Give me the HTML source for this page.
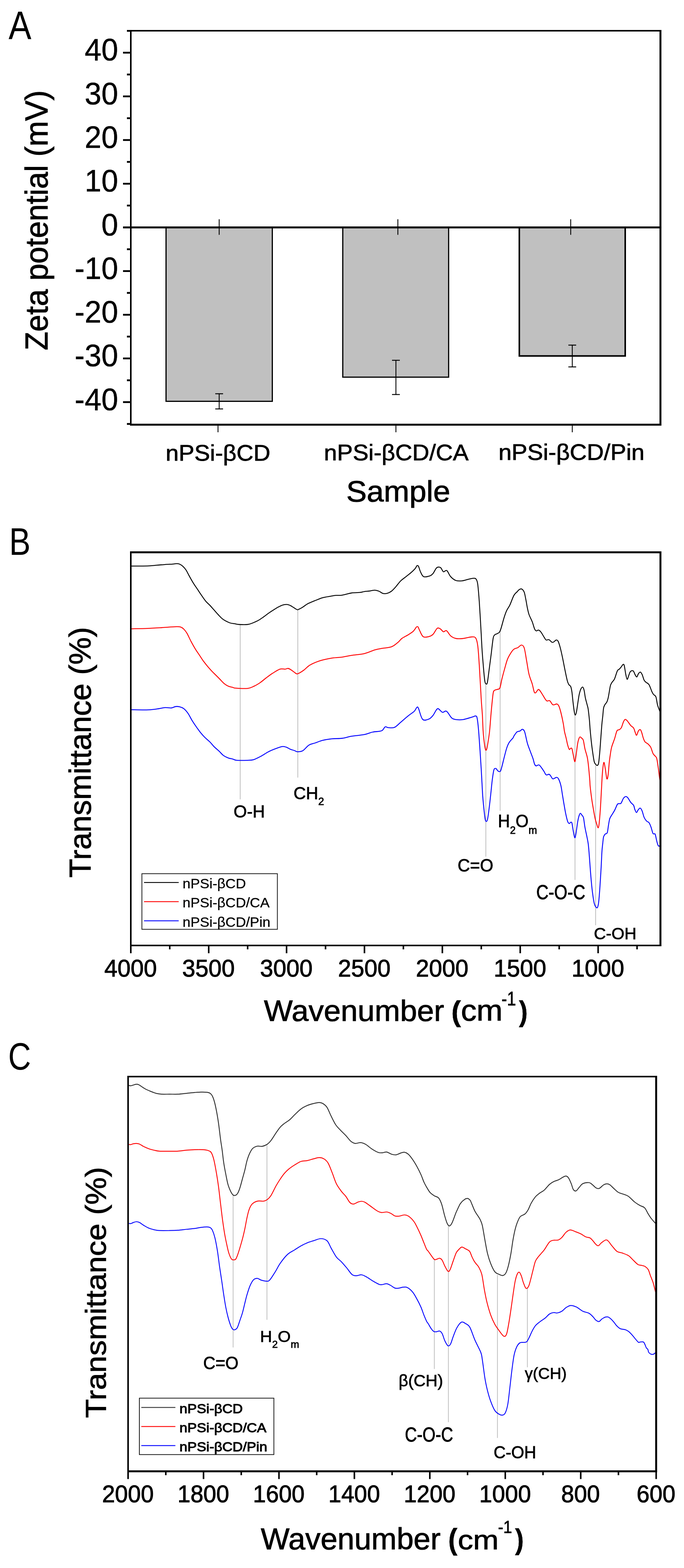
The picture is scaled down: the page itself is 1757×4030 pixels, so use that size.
<!DOCTYPE html>
<html><head><meta charset="utf-8"><title>Figure</title>
<style>html,body{margin:0;padding:0;background:#fff;}svg{display:block;}</style>
</head><body>
<svg width="1757" height="4030" viewBox="0 0 1757 4030">
<rect width="1757" height="4030" fill="#fff"/>
<rect x="426.5" y="584.45" width="273.0" height="447.0" fill="#C0C0C0" stroke="#000" stroke-width="3"/>
<rect x="880.5" y="584.45" width="271.9" height="384.9" fill="#C0C0C0" stroke="#000" stroke-width="3"/>
<rect x="1334" y="584.45" width="272.0" height="330.4" fill="#C0C0C0" stroke="#000" stroke-width="4"/>
<line x1="563" y1="1012" x2="563" y2="1051" stroke="#000" stroke-width="2.2" />
<line x1="553" y1="1012" x2="573" y2="1012" stroke="#000" stroke-width="2.4" />
<line x1="553" y1="1051" x2="573" y2="1051" stroke="#000" stroke-width="2.4" />
<line x1="1017" y1="926" x2="1017" y2="1014" stroke="#000" stroke-width="2.2" />
<line x1="1007" y1="926" x2="1027" y2="926" stroke="#000" stroke-width="2.4" />
<line x1="1007" y1="1014" x2="1027" y2="1014" stroke="#000" stroke-width="2.4" />
<line x1="1470" y1="887" x2="1470" y2="943" stroke="#000" stroke-width="2.2" />
<line x1="1460" y1="887" x2="1480" y2="887" stroke="#000" stroke-width="2.4" />
<line x1="1460" y1="943" x2="1480" y2="943" stroke="#000" stroke-width="2.4" />
<line x1="563" y1="563.5" x2="563" y2="603.5" stroke="#000" stroke-width="2.2" />
<line x1="1022" y1="563.5" x2="1022" y2="603.5" stroke="#000" stroke-width="2.2" />
<line x1="1466" y1="563.5" x2="1466" y2="603.5" stroke="#000" stroke-width="2.2" />
<line x1="316" y1="584.45" x2="1696" y2="584.45" stroke="#000" stroke-width="5" />
<line x1="334" y1="79" x2="1699" y2="79" stroke="#000" stroke-width="4" />
<line x1="336" y1="77" x2="336" y2="1094" stroke="#000" stroke-width="4" />
<line x1="1696.5" y1="77" x2="1696.5" y2="1094" stroke="#000" stroke-width="5" />
<line x1="334" y1="1091.5" x2="1699" y2="1091.5" stroke="#000" stroke-width="5" />
<line x1="316" y1="1033.5" x2="336" y2="1033.5" stroke="#000" stroke-width="4.6" />
<line x1="316" y1="921.2" x2="336" y2="921.2" stroke="#000" stroke-width="4.6" />
<line x1="316" y1="809.0" x2="336" y2="809.0" stroke="#000" stroke-width="4.6" />
<line x1="316" y1="696.7" x2="336" y2="696.7" stroke="#000" stroke-width="4.6" />
<line x1="316" y1="584.5" x2="336" y2="584.5" stroke="#000" stroke-width="4.6" />
<line x1="316" y1="472.2" x2="336" y2="472.2" stroke="#000" stroke-width="4.6" />
<line x1="316" y1="359.9" x2="336" y2="359.9" stroke="#000" stroke-width="4.6" />
<line x1="316" y1="247.7" x2="336" y2="247.7" stroke="#000" stroke-width="4.6" />
<line x1="316" y1="135.4" x2="336" y2="135.4" stroke="#000" stroke-width="4.6" />
<line x1="326" y1="1089.6" x2="336" y2="1089.6" stroke="#000" stroke-width="4.6" />
<line x1="326" y1="977.4" x2="336" y2="977.4" stroke="#000" stroke-width="4.6" />
<line x1="326" y1="865.1" x2="336" y2="865.1" stroke="#000" stroke-width="4.6" />
<line x1="326" y1="752.8" x2="336" y2="752.8" stroke="#000" stroke-width="4.6" />
<line x1="326" y1="640.6" x2="336" y2="640.6" stroke="#000" stroke-width="4.6" />
<line x1="326" y1="528.3" x2="336" y2="528.3" stroke="#000" stroke-width="4.6" />
<line x1="326" y1="416.1" x2="336" y2="416.1" stroke="#000" stroke-width="4.6" />
<line x1="326" y1="303.8" x2="336" y2="303.8" stroke="#000" stroke-width="4.6" />
<line x1="326" y1="191.5" x2="336" y2="191.5" stroke="#000" stroke-width="4.6" />
<line x1="326" y1="79.3" x2="336" y2="79.3" stroke="#000" stroke-width="4.6" />
<line x1="560" y1="1091" x2="560" y2="1111" stroke="#000" stroke-width="2.2" />
<line x1="1017" y1="1091" x2="1017" y2="1111" stroke="#000" stroke-width="2.2" />
<line x1="1470" y1="1091" x2="1470" y2="1111" stroke="#000" stroke-width="2.2" />
<clipPath id="cb"><rect x="336" y="1419.4" width="1360.5" height="1010.5999999999999"/></clipPath>
<line x1="617" y1="1606" x2="617" y2="2054.6" stroke="#C0C0C0" stroke-width="2" />
<line x1="765" y1="1566" x2="765" y2="1998.5" stroke="#C0C0C0" stroke-width="2" />
<line x1="1248" y1="1757.7" x2="1248" y2="2201.8" stroke="#C0C0C0" stroke-width="2" />
<line x1="1284.7" y1="1619.4" x2="1284.7" y2="2083.8" stroke="#C0C0C0" stroke-width="2" />
<line x1="1477" y1="1837.8" x2="1477" y2="2261.5" stroke="#C0C0C0" stroke-width="2" />
<line x1="1530" y1="1967" x2="1530" y2="2378" stroke="#C0C0C0" stroke-width="2" />
<path d="M336.0 1454.8 C343.1 1454.8 367.6 1454.9 378.7 1454.6 C389.8 1454.2 395.2 1453.3 402.8 1452.7 C410.4 1452.1 417.5 1451.3 424.2 1450.8 C430.9 1450.3 438.0 1450.1 442.9 1449.8 C447.8 1449.5 450.4 1448.7 453.5 1448.7 C456.6 1448.7 458.9 1448.9 461.6 1450.0 C464.3 1451.1 466.9 1453.0 469.6 1455.4 C472.3 1457.9 474.9 1460.7 477.6 1464.7 C480.3 1468.7 482.5 1473.8 485.6 1479.4 C488.7 1485.0 492.7 1492.3 496.3 1498.1 C499.9 1503.9 503.4 1508.8 507.0 1514.1 C510.6 1519.4 514.2 1525.1 517.7 1530.2 C521.2 1535.3 524.8 1540.7 528.3 1544.9 C531.8 1549.1 535.4 1551.8 539.0 1555.6 C542.6 1559.4 546.1 1563.6 549.7 1567.6 C553.3 1571.6 556.8 1575.8 560.4 1579.6 C564.0 1583.4 567.5 1587.4 571.1 1590.3 C574.7 1593.2 578.2 1595.1 581.8 1597.0 C585.4 1598.9 589.0 1600.5 592.5 1601.5 C596.0 1602.5 599.6 1602.5 603.1 1603.1 C606.6 1603.7 608.3 1604.7 613.8 1605.0 C619.3 1605.3 630.1 1605.7 636.0 1605.0 C641.9 1604.3 644.9 1602.7 649.4 1601.0 C653.9 1599.3 658.2 1597.5 662.7 1595.1 C667.2 1592.6 671.7 1589.4 676.1 1586.3 C680.5 1583.2 685.0 1579.5 689.4 1576.4 C693.8 1573.3 698.3 1570.4 702.8 1567.6 C707.2 1564.8 712.1 1561.7 716.1 1559.6 C720.1 1557.5 723.2 1555.8 726.8 1554.8 C730.4 1553.8 734.4 1553.5 737.5 1553.7 C740.6 1553.9 742.8 1554.9 745.5 1556.1 C748.2 1557.3 750.6 1559.1 753.5 1560.9 C756.4 1562.7 760.7 1565.9 762.9 1566.8 C765.1 1567.7 764.4 1567.3 766.9 1566.2 C769.4 1565.1 773.6 1562.8 777.6 1560.4 C781.6 1558.0 785.6 1554.4 790.9 1551.6 C796.2 1548.8 803.4 1546.0 809.6 1543.5 C815.8 1541.0 821.6 1538.2 828.3 1536.3 C835.0 1534.4 843.9 1533.3 849.7 1532.3 C855.5 1531.3 858.2 1530.7 863.1 1530.2 C868.0 1529.8 872.4 1530.6 879.1 1529.6 C885.8 1528.6 895.5 1525.2 903.1 1524.0 C910.7 1522.8 919.0 1523.3 924.5 1522.7 C930.0 1522.1 931.9 1520.9 936.0 1520.3 C940.1 1519.7 944.9 1519.6 949.4 1519.0 C953.9 1518.4 958.7 1516.7 962.7 1516.8 C966.7 1516.9 969.8 1518.1 973.4 1519.5 C977.0 1520.9 980.5 1524.5 984.1 1525.4 C987.7 1526.3 991.2 1525.8 994.8 1524.8 C998.4 1523.8 1002.0 1522.2 1005.5 1519.5 C1009.0 1516.8 1012.1 1513.2 1016.1 1508.8 C1020.1 1504.3 1025.0 1497.2 1029.5 1492.8 C1034.0 1488.3 1038.5 1485.7 1042.9 1482.1 C1047.4 1478.5 1052.2 1475.0 1056.2 1471.4 C1060.2 1467.8 1064.5 1463.6 1066.9 1460.7 C1069.4 1457.8 1069.6 1454.9 1070.9 1454.0 C1072.2 1453.1 1073.3 1452.7 1074.9 1455.4 C1076.5 1458.1 1078.1 1465.6 1080.3 1470.1 C1082.5 1474.5 1084.3 1480.4 1088.3 1482.1 C1092.3 1483.8 1100.3 1481.5 1104.3 1480.2 C1108.3 1478.9 1109.6 1477.3 1112.3 1474.1 C1115.0 1470.8 1118.1 1463.5 1120.3 1460.7 C1122.5 1457.9 1123.7 1457.7 1125.7 1457.5 C1127.7 1457.3 1130.1 1457.4 1132.3 1459.4 C1134.5 1461.4 1136.8 1468.4 1139.0 1469.5 C1141.2 1470.6 1143.9 1466.2 1145.7 1466.1 C1147.5 1466.0 1147.7 1466.0 1149.7 1468.7 C1151.7 1471.4 1154.1 1478.2 1157.7 1482.1 C1161.3 1486.0 1166.2 1490.2 1171.1 1492.0 C1176.0 1493.8 1181.8 1493.3 1187.1 1492.8 C1192.4 1492.3 1198.2 1489.9 1203.1 1488.8 C1208.0 1487.7 1213.2 1486.1 1216.5 1486.1 C1219.8 1486.1 1221.4 1486.1 1223.2 1488.8 C1225.0 1491.5 1225.9 1492.3 1227.2 1502.1 C1228.5 1511.9 1229.7 1526.5 1231.2 1547.5 C1232.7 1568.5 1234.9 1608.3 1236.0 1628.0 C1237.1 1647.7 1237.2 1652.4 1238.0 1665.5 C1238.8 1678.6 1239.9 1692.5 1241.1 1706.5 C1242.3 1720.5 1243.9 1741.0 1245.2 1749.5 C1246.5 1758.0 1247.6 1757.0 1248.7 1757.7 C1249.8 1758.4 1250.7 1759.8 1252.0 1753.6 C1253.3 1747.4 1254.9 1732.8 1256.5 1720.8 C1258.1 1708.8 1259.9 1695.2 1261.6 1681.9 C1263.3 1668.6 1265.2 1649.4 1266.7 1641.0 C1268.2 1632.6 1269.1 1633.8 1270.8 1631.7 C1272.5 1629.7 1275.0 1629.9 1277.0 1628.7 C1279.0 1627.5 1281.4 1627.0 1283.1 1624.6 C1284.8 1622.2 1285.2 1620.8 1287.2 1614.3 C1289.2 1607.8 1293.0 1593.2 1295.4 1585.7 C1297.8 1578.2 1299.1 1574.4 1301.5 1569.3 C1303.9 1564.2 1306.6 1561.4 1309.7 1554.9 C1312.8 1548.4 1316.9 1536.0 1320.0 1530.4 C1323.1 1524.8 1325.8 1523.7 1328.2 1521.1 C1330.6 1518.5 1332.2 1516.2 1334.3 1515.0 C1336.3 1513.8 1338.5 1512.8 1340.5 1514.0 C1342.5 1515.2 1344.9 1517.8 1346.6 1522.2 C1348.3 1526.6 1349.3 1533.8 1350.7 1540.6 C1352.1 1547.4 1353.4 1556.6 1354.8 1563.1 C1356.2 1569.6 1356.9 1573.7 1358.9 1579.5 C1361.0 1585.3 1364.7 1591.8 1367.1 1597.9 C1369.5 1604.1 1371.5 1612.5 1373.2 1616.4 C1374.9 1620.3 1375.6 1621.0 1377.3 1621.5 C1379.0 1622.0 1381.5 1618.9 1383.5 1619.4 C1385.5 1619.9 1387.2 1621.5 1389.6 1624.6 C1392.0 1627.7 1395.6 1634.5 1397.8 1637.9 C1400.0 1641.3 1400.9 1644.0 1402.9 1645.0 C1405.0 1646.0 1407.4 1643.0 1410.1 1644.0 C1412.8 1645.0 1416.2 1651.0 1419.3 1651.2 C1422.4 1651.4 1426.1 1645.5 1428.5 1645.0 C1430.9 1644.5 1431.9 1645.0 1433.6 1648.1 C1435.3 1651.2 1436.9 1656.5 1438.8 1663.5 C1440.7 1670.5 1442.9 1680.5 1444.9 1690.1 C1446.9 1699.6 1449.0 1710.9 1451.0 1720.8 C1453.0 1730.7 1455.5 1743.0 1457.2 1749.5 C1458.9 1756.0 1459.8 1757.2 1461.3 1759.7 C1462.8 1762.2 1464.7 1761.4 1466.0 1764.5 C1467.3 1767.6 1468.0 1771.2 1469.1 1778.4 C1470.1 1785.6 1471.2 1798.8 1472.3 1807.5 C1473.3 1816.2 1474.5 1825.5 1475.4 1830.5 C1476.3 1835.5 1476.6 1837.8 1477.5 1837.8 C1478.4 1837.8 1479.4 1836.2 1480.6 1830.5 C1481.8 1824.8 1483.6 1811.1 1484.8 1803.4 C1486.0 1795.8 1486.7 1790.0 1487.9 1784.6 C1489.1 1779.2 1490.5 1774.2 1492.0 1771.1 C1493.5 1768.0 1495.4 1765.4 1496.8 1765.9 C1498.2 1766.4 1499.3 1769.7 1500.4 1774.2 C1501.5 1778.7 1502.3 1787.0 1503.5 1792.9 C1504.7 1798.8 1506.5 1804.7 1507.7 1809.6 C1508.9 1814.5 1509.8 1815.5 1510.8 1822.1 C1511.8 1828.7 1513.0 1840.2 1513.9 1849.2 C1514.8 1858.2 1515.1 1866.6 1516.0 1876.3 C1516.9 1886.0 1518.0 1898.2 1519.1 1907.6 C1520.1 1917.0 1521.1 1924.3 1522.3 1932.6 C1523.5 1940.9 1525.0 1952.2 1526.4 1957.6 C1527.8 1963.0 1529.2 1963.3 1530.6 1964.9 C1532.0 1966.5 1533.6 1967.9 1534.8 1967.0 C1536.0 1966.1 1536.9 1966.1 1537.9 1959.7 C1538.9 1953.3 1540.0 1940.6 1541.0 1928.4 C1542.0 1916.2 1543.2 1898.2 1544.1 1886.7 C1545.0 1875.2 1545.5 1867.2 1546.2 1859.6 C1546.9 1852.0 1547.6 1847.5 1548.3 1840.9 C1549.0 1834.3 1549.5 1824.9 1550.4 1820.0 C1551.3 1815.1 1552.1 1814.3 1553.5 1811.7 C1554.9 1809.1 1557.3 1807.2 1558.7 1804.4 C1560.1 1801.6 1560.9 1799.3 1561.9 1795.0 C1563.0 1790.7 1564.0 1784.0 1565.0 1778.4 C1566.0 1772.9 1566.9 1765.9 1568.1 1761.7 C1569.3 1757.5 1570.6 1756.2 1572.3 1753.4 C1574.0 1750.6 1576.2 1749.9 1578.5 1745.0 C1580.8 1740.1 1583.7 1728.4 1585.8 1724.2 C1587.9 1720.0 1589.4 1721.2 1591.0 1719.6 C1592.6 1718.0 1593.6 1716.8 1595.2 1714.8 C1596.8 1712.8 1599.0 1708.6 1600.4 1707.9 C1601.8 1707.2 1602.3 1706.1 1603.5 1710.6 C1604.7 1715.0 1606.4 1728.7 1607.7 1734.6 C1609.0 1740.5 1610.0 1745.8 1611.2 1746.1 C1612.4 1746.4 1613.6 1740.0 1614.9 1736.7 C1616.2 1733.4 1617.3 1728.4 1619.2 1726.3 C1621.1 1724.2 1624.3 1722.8 1626.4 1724.2 C1628.5 1725.6 1630.1 1732.0 1631.7 1734.6 C1633.3 1737.2 1634.4 1740.3 1635.8 1739.8 C1637.2 1739.3 1638.5 1733.6 1640.0 1731.5 C1641.5 1729.4 1643.2 1727.0 1644.8 1727.3 C1646.4 1727.6 1647.8 1730.1 1649.4 1733.6 C1651.0 1737.1 1652.9 1744.8 1654.6 1748.2 C1656.3 1751.6 1657.7 1751.9 1659.8 1753.8 C1661.9 1755.7 1664.7 1755.7 1667.1 1759.6 C1669.5 1763.5 1672.5 1773.1 1674.4 1777.3 C1676.3 1781.5 1676.8 1782.3 1678.5 1784.6 C1680.2 1786.9 1683.0 1786.4 1684.8 1790.9 C1686.5 1795.4 1687.4 1805.8 1689.0 1811.7 C1690.6 1817.6 1692.9 1822.6 1694.2 1826.3 C1695.5 1830.0 1696.5 1832.7 1697.0 1834.0" fill="none" stroke="#000" stroke-width="2.3" stroke-linejoin="round" clip-path="url(#cb)"/>
<path d="M336.0 1616.2 C343.1 1616.0 365.3 1615.6 378.7 1615.1 C392.1 1614.6 403.6 1613.8 416.1 1613.0 C428.6 1612.2 445.5 1610.8 453.5 1610.6 C461.5 1610.4 461.1 1610.6 464.2 1611.7 C467.3 1612.8 469.5 1614.3 472.2 1617.0 C474.9 1619.7 477.2 1622.4 480.3 1627.7 C483.4 1633.0 487.4 1642.4 491.0 1649.1 C494.6 1655.8 498.1 1662.0 501.6 1667.8 C505.2 1673.6 508.7 1678.5 512.3 1683.8 C515.9 1689.1 519.4 1694.9 523.0 1699.8 C526.6 1704.7 530.1 1709.0 533.7 1713.2 C537.3 1717.4 540.8 1721.4 544.4 1725.2 C548.0 1729.0 551.5 1732.3 555.1 1735.9 C558.7 1739.5 562.2 1743.0 565.7 1746.6 C569.2 1750.2 572.8 1754.4 576.4 1757.3 C580.0 1760.2 583.5 1762.4 587.1 1763.9 C590.7 1765.5 594.7 1765.8 597.8 1766.6 C600.9 1767.4 599.4 1768.2 605.8 1768.7 C612.2 1769.2 628.3 1770.1 636.0 1769.3 C643.7 1768.5 646.6 1766.4 652.0 1763.9 C657.4 1761.5 662.8 1758.2 668.1 1754.6 C673.5 1750.9 678.8 1746.0 684.1 1742.0 C689.4 1738.0 694.3 1734.2 700.1 1730.5 C705.9 1726.8 713.4 1721.6 718.8 1719.8 C724.1 1718.0 728.6 1720.1 732.2 1719.8 C735.8 1719.5 737.5 1717.6 740.2 1718.0 C742.9 1718.4 745.5 1720.3 748.2 1722.0 C750.9 1723.7 753.5 1726.2 756.2 1727.9 C758.9 1729.6 760.2 1732.8 764.2 1731.9 C768.2 1731.0 774.9 1726.3 780.3 1722.5 C785.6 1718.7 789.2 1713.3 796.3 1709.2 C803.4 1705.1 814.1 1700.8 823.0 1697.9 C831.9 1695.0 840.8 1693.3 849.7 1691.8 C858.6 1690.3 867.5 1690.3 876.4 1689.1 C885.3 1687.8 893.2 1685.8 903.1 1684.3 C913.0 1682.8 926.1 1682.1 936.0 1679.8 C945.9 1677.5 955.1 1672.6 962.7 1670.4 C970.3 1668.2 974.3 1667.7 981.4 1666.4 C988.5 1665.1 998.8 1664.9 1005.5 1662.4 C1012.2 1660.0 1017.0 1655.3 1021.5 1651.7 C1026.0 1648.1 1027.8 1644.3 1032.2 1641.0 C1036.7 1637.7 1043.3 1634.8 1048.2 1631.7 C1053.1 1628.6 1058.0 1625.6 1061.6 1622.3 C1065.2 1619.0 1067.6 1613.6 1069.6 1611.7 C1071.6 1609.8 1072.3 1609.8 1073.6 1611.1 C1074.9 1612.4 1075.4 1615.5 1077.6 1619.7 C1079.8 1623.9 1082.9 1633.5 1086.9 1636.2 C1090.9 1639.0 1097.4 1637.2 1101.6 1636.2 C1105.8 1635.2 1108.7 1634.0 1112.3 1630.4 C1115.9 1626.9 1119.9 1617.3 1123.0 1614.9 C1126.1 1612.5 1128.3 1614.7 1131.0 1616.2 C1133.7 1617.7 1136.3 1622.9 1139.0 1623.7 C1141.7 1624.5 1143.9 1619.2 1147.0 1621.0 C1150.1 1622.8 1153.7 1631.1 1157.7 1634.4 C1161.7 1637.7 1165.8 1639.9 1171.1 1641.0 C1176.4 1642.1 1183.1 1641.7 1189.8 1641.0 C1196.5 1640.3 1205.9 1637.2 1211.2 1637.0 C1216.5 1636.8 1219.1 1635.9 1221.8 1639.7 C1224.5 1643.5 1225.6 1647.9 1227.2 1659.7 C1228.8 1671.5 1229.7 1688.0 1231.2 1710.5 C1232.7 1733.0 1234.7 1773.8 1236.0 1795.0 C1237.3 1816.2 1238.2 1823.4 1239.1 1837.6 C1239.9 1851.8 1240.2 1867.8 1241.1 1880.0 C1241.9 1892.2 1243.2 1902.9 1244.2 1910.7 C1245.2 1918.5 1246.3 1924.7 1247.3 1927.1 C1248.3 1929.5 1249.3 1928.2 1250.3 1925.1 C1251.3 1922.0 1252.2 1916.2 1253.4 1908.7 C1254.6 1901.2 1256.1 1892.9 1257.5 1880.0 C1258.9 1867.1 1260.1 1847.7 1261.6 1831.4 C1263.1 1815.1 1265.2 1791.8 1266.7 1782.3 C1268.2 1772.8 1269.1 1775.8 1270.8 1774.1 C1272.5 1772.4 1274.8 1773.0 1277.0 1772.0 C1279.2 1771.0 1282.1 1772.3 1284.1 1767.9 C1286.1 1763.5 1287.0 1754.3 1289.2 1745.4 C1291.4 1736.5 1295.0 1723.2 1297.4 1714.7 C1299.8 1706.2 1301.2 1700.2 1303.6 1694.2 C1306.0 1688.2 1309.1 1683.1 1311.8 1678.8 C1314.5 1674.5 1316.9 1671.0 1320.0 1668.6 C1323.1 1666.2 1327.0 1666.3 1330.2 1664.5 C1333.4 1662.7 1336.7 1657.6 1339.4 1657.8 C1342.1 1658.0 1344.4 1658.8 1346.6 1665.5 C1348.8 1672.2 1350.7 1687.0 1352.7 1698.3 C1354.8 1709.6 1356.5 1723.2 1358.9 1733.1 C1361.3 1743.0 1364.9 1750.2 1367.1 1757.7 C1369.3 1765.2 1370.7 1774.5 1372.2 1778.2 C1373.7 1782.0 1374.4 1781.2 1376.3 1780.2 C1378.2 1779.2 1380.9 1771.7 1383.5 1772.0 C1386.1 1772.3 1389.0 1778.4 1391.7 1782.3 C1394.4 1786.2 1397.6 1792.4 1399.8 1795.6 C1402.0 1798.8 1403.0 1800.8 1405.0 1801.7 C1407.0 1802.6 1409.5 1799.5 1412.1 1801.1 C1414.6 1802.7 1417.2 1810.0 1420.3 1811.4 C1423.4 1812.8 1428.0 1808.7 1430.6 1809.3 C1433.2 1809.9 1434.0 1811.3 1435.7 1815.0 C1437.4 1818.7 1438.9 1823.9 1440.8 1831.4 C1442.7 1838.9 1445.5 1852.0 1447.0 1860.1 C1448.5 1868.2 1448.8 1874.0 1450.0 1880.0 C1451.2 1886.0 1452.7 1890.6 1454.1 1896.4 C1455.5 1902.2 1456.8 1909.8 1458.2 1914.8 C1459.6 1919.8 1461.0 1924.7 1462.3 1926.1 C1463.6 1927.5 1464.9 1923.5 1466.0 1923.2 C1467.1 1922.9 1468.0 1921.6 1469.1 1924.2 C1470.1 1926.8 1471.1 1933.2 1472.3 1938.8 C1473.5 1944.4 1475.2 1956.9 1476.4 1957.6 C1477.6 1958.3 1478.3 1950.7 1479.5 1943.0 C1480.7 1935.3 1482.5 1919.0 1483.7 1911.7 C1484.9 1904.4 1485.8 1902.2 1486.8 1899.2 C1487.8 1896.2 1488.8 1894.3 1490.0 1894.0 C1491.2 1893.7 1492.7 1895.7 1494.1 1897.1 C1495.5 1898.5 1496.9 1897.8 1498.3 1902.3 C1499.7 1906.8 1500.8 1916.7 1502.5 1924.2 C1504.2 1931.7 1507.2 1939.6 1508.7 1947.2 C1510.2 1954.8 1510.8 1960.4 1511.8 1970.1 C1512.8 1979.8 1514.3 1996.9 1515.0 2005.5 C1515.7 2014.1 1515.1 2013.5 1516.0 2021.7 C1516.9 2030.0 1518.8 2045.3 1520.2 2055.0 C1521.6 2064.7 1522.9 2072.0 1524.3 2080.0 C1525.7 2088.0 1527.1 2096.7 1528.5 2102.9 C1529.9 2109.2 1531.4 2113.3 1532.7 2117.5 C1534.0 2121.7 1535.4 2127.9 1536.4 2127.9 C1537.4 2127.9 1538.0 2125.5 1538.9 2117.5 C1539.9 2109.5 1541.1 2094.2 1542.1 2080.0 C1543.1 2065.8 1543.9 2047.4 1544.8 2032.1 C1545.7 2016.8 1546.3 2000.4 1547.3 1988.3 C1548.3 1976.2 1549.8 1962.0 1551.0 1959.7 C1552.2 1957.4 1553.3 1967.3 1554.6 1974.2 C1555.9 1981.1 1557.5 1998.2 1558.7 2001.3 C1559.9 2004.4 1560.9 1999.9 1561.9 1993.0 C1563.0 1986.1 1564.0 1969.1 1565.0 1959.7 C1566.0 1950.3 1567.1 1943.3 1568.1 1936.7 C1569.1 1930.1 1569.5 1926.2 1571.2 1920.0 C1572.9 1913.8 1576.2 1906.1 1578.5 1899.2 C1580.8 1892.3 1582.7 1882.4 1584.8 1878.4 C1586.9 1874.4 1589.1 1876.7 1591.0 1875.3 C1592.9 1873.9 1594.5 1873.3 1596.2 1870.0 C1597.9 1866.7 1599.8 1859.0 1601.4 1855.5 C1603.0 1852.0 1604.2 1849.1 1606.0 1848.8 C1607.8 1848.5 1609.5 1850.7 1611.9 1853.4 C1614.3 1856.1 1617.6 1861.8 1620.2 1864.8 C1622.8 1867.8 1625.6 1868.1 1627.5 1871.1 C1629.4 1874.0 1630.4 1879.4 1631.7 1882.5 C1633.0 1885.6 1633.8 1890.5 1635.2 1889.8 C1636.6 1889.1 1638.4 1880.8 1640.0 1878.4 C1641.6 1876.0 1643.4 1874.6 1644.8 1875.3 C1646.2 1876.0 1647.0 1878.9 1648.3 1882.5 C1649.6 1886.1 1651.1 1893.1 1652.5 1897.1 C1653.9 1901.1 1654.8 1904.1 1656.7 1906.5 C1658.6 1908.9 1661.6 1909.5 1664.0 1911.7 C1666.4 1914.0 1669.0 1915.8 1671.3 1920.0 C1673.5 1924.2 1675.6 1932.9 1677.5 1936.7 C1679.4 1940.5 1681.1 1940.9 1682.7 1943.0 C1684.3 1945.1 1685.5 1944.0 1686.9 1949.2 C1688.3 1954.4 1689.8 1965.9 1691.0 1974.2 C1692.2 1982.5 1693.2 1991.6 1694.2 1999.2 C1695.2 2006.8 1696.8 2016.5 1697.3 2020.0" fill="none" stroke="#f00" stroke-width="2.3" stroke-linejoin="round" clip-path="url(#cb)"/>
<path d="M336.0 1824.0 C342.7 1824.1 365.0 1824.9 376.1 1824.6 C387.2 1824.3 394.8 1823.2 402.8 1822.2 C410.8 1821.2 418.0 1819.2 424.2 1818.7 C430.4 1818.2 435.8 1820.0 440.2 1819.5 C444.6 1819.0 447.3 1816.5 450.9 1816.0 C454.5 1815.5 458.1 1815.7 461.6 1816.6 C465.2 1817.5 468.6 1818.6 472.2 1821.4 C475.8 1824.2 479.3 1828.3 482.9 1833.4 C486.5 1838.5 490.0 1846.3 493.6 1852.1 C497.2 1857.9 500.7 1863.0 504.3 1868.1 C507.9 1873.2 511.4 1878.3 515.0 1882.8 C518.6 1887.2 521.7 1890.8 525.7 1894.8 C529.7 1898.8 535.0 1902.8 539.0 1906.8 C543.0 1910.8 545.7 1914.9 549.7 1918.9 C553.7 1922.9 559.1 1927.1 563.1 1930.9 C567.1 1934.7 569.8 1938.7 573.8 1941.6 C577.8 1944.5 583.1 1946.8 587.1 1948.3 C591.1 1949.8 594.2 1949.9 597.8 1950.9 C601.4 1951.9 602.1 1953.6 608.5 1954.1 C614.9 1954.6 628.8 1954.4 636.0 1954.1 C643.2 1953.8 646.2 1954.1 652.0 1952.3 C657.8 1950.5 664.5 1946.8 670.7 1943.5 C676.9 1940.2 683.2 1935.4 689.4 1932.2 C695.6 1929.0 702.3 1926.4 708.1 1924.2 C713.9 1922.0 719.8 1919.6 724.2 1918.9 C728.7 1918.2 731.2 1919.1 734.8 1920.2 C738.3 1921.3 741.9 1924.1 745.5 1925.6 C749.1 1927.1 753.1 1927.9 756.2 1929.0 C759.3 1930.1 760.6 1932.1 764.2 1932.2 C767.8 1932.3 772.7 1932.5 777.6 1929.6 C782.5 1926.7 788.3 1918.2 793.6 1914.9 C798.9 1911.6 803.8 1911.5 809.6 1909.5 C815.4 1907.5 821.2 1904.7 828.3 1902.9 C835.4 1901.1 843.9 1899.7 852.4 1898.8 C860.9 1897.9 870.6 1898.6 879.1 1897.5 C887.6 1896.4 893.6 1893.8 903.1 1892.2 C912.6 1890.6 927.0 1889.7 936.0 1887.9 C945.0 1886.1 950.0 1883.1 957.4 1881.5 C964.8 1879.9 974.8 1880.5 980.1 1878.3 C985.4 1876.1 986.5 1869.4 989.4 1868.1 C992.3 1866.8 993.4 1870.0 997.4 1870.2 C1001.4 1870.4 1008.1 1871.8 1013.5 1869.4 C1018.9 1867.1 1023.7 1861.0 1029.5 1856.1 C1035.3 1851.2 1042.4 1844.8 1048.2 1840.1 C1054.0 1835.4 1060.4 1831.7 1064.2 1828.0 C1068.0 1824.3 1069.1 1819.1 1070.9 1817.9 C1072.7 1816.7 1072.5 1815.4 1074.9 1820.6 C1077.4 1825.8 1081.1 1844.3 1085.6 1848.9 C1090.0 1853.5 1097.1 1849.8 1101.6 1848.1 C1106.0 1846.4 1109.2 1842.5 1112.3 1838.7 C1115.4 1834.9 1118.1 1828.3 1120.3 1825.4 C1122.5 1822.5 1123.0 1820.5 1125.7 1821.4 C1128.4 1822.3 1133.3 1829.7 1136.4 1830.7 C1139.5 1831.7 1142.2 1827.5 1144.4 1827.5 C1146.6 1827.5 1147.0 1827.7 1149.7 1830.7 C1152.4 1833.7 1156.8 1842.3 1160.4 1845.4 C1164.0 1848.5 1166.2 1848.7 1171.1 1849.4 C1176.0 1850.1 1182.7 1850.5 1189.8 1849.4 C1196.9 1848.3 1208.5 1844.2 1213.8 1842.7 C1219.1 1841.2 1219.8 1839.4 1221.8 1840.1 C1223.8 1840.8 1224.4 1839.4 1225.8 1846.7 C1227.2 1854.0 1228.2 1862.7 1229.9 1884.1 C1231.6 1905.5 1234.7 1953.8 1236.0 1975.0 C1237.3 1996.2 1237.3 1998.9 1238.0 2011.1 C1238.7 2023.2 1239.2 2036.3 1240.1 2047.9 C1241.0 2059.5 1242.2 2071.1 1243.2 2080.7 C1244.2 2090.3 1245.2 2100.2 1246.2 2105.3 C1247.2 2110.4 1248.3 2111.4 1249.3 2111.4 C1250.3 2111.4 1251.4 2109.7 1252.4 2105.3 C1253.4 2100.9 1254.5 2092.3 1255.5 2084.8 C1256.5 2077.3 1257.5 2069.1 1258.5 2060.2 C1259.5 2051.3 1260.6 2041.1 1261.6 2031.6 C1262.6 2022.0 1263.5 2011.8 1264.7 2002.9 C1265.9 1994.0 1267.3 1982.9 1268.8 1978.3 C1270.3 1973.7 1272.2 1974.7 1273.9 1975.2 C1275.6 1975.7 1277.1 1980.2 1279.0 1981.4 C1280.9 1982.6 1283.5 1984.3 1285.2 1982.4 C1286.9 1980.5 1287.6 1976.2 1289.3 1970.1 C1291.0 1963.9 1293.4 1953.3 1295.4 1945.5 C1297.4 1937.7 1299.5 1929.1 1301.5 1923.0 C1303.5 1916.9 1305.0 1913.1 1307.7 1908.7 C1310.4 1904.3 1315.9 1899.2 1317.9 1896.4 C1320.0 1893.6 1318.6 1894.0 1320.0 1891.8 C1321.4 1889.6 1324.7 1884.9 1326.1 1883.1 C1327.5 1881.3 1326.5 1881.8 1328.2 1881.0 C1329.9 1880.2 1334.2 1879.6 1336.4 1878.5 C1338.6 1877.4 1339.6 1874.1 1341.5 1874.4 C1343.4 1874.8 1345.4 1874.5 1347.6 1880.6 C1349.8 1886.6 1352.2 1901.9 1354.8 1910.7 C1357.4 1919.5 1360.6 1926.8 1363.0 1933.3 C1365.4 1939.8 1367.4 1944.5 1369.1 1949.6 C1370.8 1954.7 1371.8 1960.8 1373.2 1964.0 C1374.6 1967.2 1375.4 1968.2 1377.3 1968.5 C1379.2 1968.8 1382.1 1965.0 1384.5 1966.0 C1386.9 1967.0 1389.5 1971.3 1391.7 1974.2 C1393.9 1977.1 1395.9 1980.5 1397.8 1983.4 C1399.7 1986.3 1400.9 1990.5 1402.9 1991.6 C1405.0 1992.7 1408.2 1989.7 1410.1 1990.0 C1412.0 1990.3 1412.5 1991.7 1414.2 1993.7 C1415.9 1995.7 1417.8 2001.2 1420.3 2001.9 C1422.8 2002.6 1427.1 1997.8 1429.5 1997.8 C1431.9 1997.8 1432.8 1998.3 1434.7 2001.9 C1436.6 2005.5 1439.1 2012.3 1440.8 2019.3 C1442.5 2026.3 1443.5 2035.6 1444.9 2043.8 C1446.3 2052.0 1447.6 2060.5 1449.0 2068.4 C1450.4 2076.3 1451.6 2083.8 1453.1 2091.0 C1454.6 2098.2 1456.7 2107.1 1458.2 2111.4 C1459.7 2115.7 1461.0 2116.3 1462.3 2116.6 C1463.6 2116.9 1464.9 2113.6 1466.0 2113.4 C1467.1 2113.2 1468.0 2111.9 1469.1 2115.4 C1470.1 2118.9 1471.1 2127.9 1472.3 2134.2 C1473.5 2140.5 1475.2 2151.6 1476.4 2153.0 C1477.6 2154.4 1478.3 2149.1 1479.5 2142.5 C1480.7 2135.9 1482.5 2120.7 1483.7 2113.4 C1484.9 2106.1 1485.7 2102.6 1486.8 2098.8 C1487.9 2095.0 1489.2 2090.9 1490.6 2090.4 C1492.0 2089.9 1493.8 2093.7 1495.2 2095.6 C1496.6 2097.5 1497.7 2096.8 1498.9 2101.9 C1500.1 2107.0 1501.0 2117.7 1502.5 2125.9 C1504.0 2134.1 1506.3 2144.0 1507.7 2150.9 C1509.1 2157.8 1509.9 2161.2 1510.8 2167.5 C1511.7 2173.8 1512.0 2178.0 1512.9 2188.4 C1513.8 2198.8 1515.0 2216.8 1516.0 2230.0 C1517.0 2243.2 1518.0 2256.5 1519.1 2267.6 C1520.1 2278.7 1521.1 2287.7 1522.3 2296.7 C1523.5 2305.7 1525.0 2316.0 1526.4 2321.7 C1527.8 2327.4 1529.2 2329.3 1530.6 2331.1 C1532.0 2332.8 1533.6 2334.4 1534.8 2332.2 C1536.0 2329.9 1536.9 2326.3 1537.9 2317.6 C1538.9 2308.9 1540.0 2294.7 1541.0 2280.1 C1542.0 2265.5 1543.2 2245.3 1544.1 2230.0 C1545.0 2214.7 1545.5 2198.8 1546.2 2188.4 C1546.9 2178.0 1547.6 2173.8 1548.3 2167.5 C1549.0 2161.2 1549.4 2154.9 1550.4 2150.9 C1551.5 2146.9 1553.0 2145.3 1554.6 2143.6 C1556.2 2141.8 1558.4 2144.1 1559.8 2140.4 C1561.2 2136.8 1561.9 2127.6 1562.9 2121.7 C1563.9 2115.8 1564.8 2109.2 1566.0 2105.0 C1567.2 2100.8 1568.1 2100.3 1570.2 2096.7 C1572.3 2093.0 1575.9 2088.0 1578.5 2083.1 C1581.1 2078.2 1583.9 2070.4 1585.8 2067.5 C1587.7 2064.6 1588.4 2065.9 1590.0 2065.4 C1591.6 2064.9 1593.3 2066.7 1595.2 2064.4 C1597.1 2062.2 1599.3 2054.8 1601.4 2051.9 C1603.5 2049.0 1605.8 2047.3 1607.7 2047.1 C1609.6 2046.9 1610.8 2048.3 1612.9 2050.8 C1615.0 2053.3 1617.8 2059.2 1620.2 2062.3 C1622.6 2065.4 1625.8 2066.7 1627.5 2069.6 C1629.2 2072.5 1629.4 2076.9 1630.6 2080.0 C1631.8 2083.1 1633.4 2088.1 1634.8 2088.4 C1636.2 2088.8 1637.4 2084.0 1639.0 2082.1 C1640.6 2080.2 1642.5 2076.6 1644.2 2076.9 C1645.9 2077.2 1647.7 2080.2 1649.4 2084.2 C1651.1 2088.2 1652.7 2096.6 1654.6 2100.9 C1656.5 2105.2 1658.7 2107.9 1660.8 2110.2 C1662.9 2112.4 1665.2 2111.8 1667.1 2114.4 C1669.0 2117.0 1670.6 2121.2 1672.3 2125.9 C1674.0 2130.6 1675.8 2139.6 1677.5 2142.5 C1679.2 2145.4 1681.1 2140.5 1682.7 2143.6 C1684.3 2146.7 1685.7 2156.6 1686.9 2161.3 C1688.1 2166.0 1689.0 2169.4 1690.0 2171.7 C1691.0 2173.9 1691.9 2175.2 1693.1 2174.8 C1694.2 2174.5 1696.3 2170.5 1696.9 2169.6" fill="none" stroke="#00f" stroke-width="2.3" stroke-linejoin="round" clip-path="url(#cb)"/>
<line x1="334" y1="1419.4" x2="1699.0" y2="1419.4" stroke="#000" stroke-width="5" />
<line x1="336" y1="1416.9" x2="336" y2="2432" stroke="#000" stroke-width="4" />
<line x1="1696.5" y1="1416.9" x2="1696.5" y2="2432" stroke="#000" stroke-width="5" />
<line x1="334" y1="2430" x2="1699.0" y2="2430" stroke="#000" stroke-width="4" />
<line x1="336.0" y1="2430" x2="336.0" y2="2450" stroke="#000" stroke-width="4" />
<line x1="436.0" y1="2430" x2="436.0" y2="2440" stroke="#000" stroke-width="4" />
<line x1="536.1" y1="2430" x2="536.1" y2="2450" stroke="#000" stroke-width="4" />
<line x1="636.1" y1="2430" x2="636.1" y2="2440" stroke="#000" stroke-width="4" />
<line x1="736.1" y1="2430" x2="736.1" y2="2450" stroke="#000" stroke-width="4" />
<line x1="836.2" y1="2430" x2="836.2" y2="2440" stroke="#000" stroke-width="4" />
<line x1="936.2" y1="2430" x2="936.2" y2="2450" stroke="#000" stroke-width="4" />
<line x1="1036.2" y1="2430" x2="1036.2" y2="2440" stroke="#000" stroke-width="4" />
<line x1="1136.3" y1="2430" x2="1136.3" y2="2450" stroke="#000" stroke-width="4" />
<line x1="1236.3" y1="2430" x2="1236.3" y2="2440" stroke="#000" stroke-width="4" />
<line x1="1336.3" y1="2430" x2="1336.3" y2="2450" stroke="#000" stroke-width="4" />
<line x1="1436.4" y1="2430" x2="1436.4" y2="2440" stroke="#000" stroke-width="4" />
<line x1="1536.4" y1="2430" x2="1536.4" y2="2450" stroke="#000" stroke-width="4" />
<line x1="1636.4" y1="2430" x2="1636.4" y2="2440" stroke="#000" stroke-width="4" />
<rect x="364.5" y="2245.5" width="348" height="143" fill="#fff" stroke="#000" stroke-width="1.8"/>
<line x1="370" y1="2268.2" x2="459" y2="2268.2" stroke="#000" stroke-width="2.2" />
<line x1="370" y1="2317.4" x2="459" y2="2317.4" stroke="#f00" stroke-width="2.2" />
<line x1="370" y1="2366.6" x2="459" y2="2366.6" stroke="#00f" stroke-width="2.2" />
<clipPath id="cc"><rect x="329" y="2767" width="1356.5" height="1014.4000000000001"/></clipPath>
<line x1="598.8" y1="3072" x2="598.8" y2="3463.3" stroke="#C0C0C0" stroke-width="2" />
<line x1="685.7" y1="2942.3" x2="685.7" y2="3392" stroke="#C0C0C0" stroke-width="2" />
<line x1="1115.7" y1="3236" x2="1115.7" y2="3518.5" stroke="#C0C0C0" stroke-width="2" />
<line x1="1151.8" y1="3150" x2="1151.8" y2="3655.2" stroke="#C0C0C0" stroke-width="2" />
<line x1="1277.8" y1="3276.5" x2="1277.8" y2="3695.7" stroke="#C0C0C0" stroke-width="2" />
<line x1="1354.7" y1="3310" x2="1354.7" y2="3514.2" stroke="#C0C0C0" stroke-width="2" />
<path d="M329.0 2789.2 C330.1 2789.4 333.5 2790.7 335.7 2790.6 C337.9 2790.5 340.2 2789.3 342.4 2788.7 C344.6 2788.1 346.8 2787.0 349.0 2786.8 C351.2 2786.6 353.2 2786.4 355.7 2787.4 C358.1 2788.4 360.6 2790.7 363.7 2792.7 C366.8 2794.7 370.4 2797.3 374.4 2799.4 C378.4 2801.5 383.4 2803.5 387.8 2805.3 C392.2 2807.1 396.7 2808.9 401.1 2810.1 C405.6 2811.2 408.7 2811.8 414.5 2812.2 C420.3 2812.5 428.8 2812.2 435.9 2812.2 C443.0 2812.2 450.1 2812.5 457.2 2812.2 C464.3 2811.8 471.5 2810.8 478.6 2810.1 C485.7 2809.4 493.8 2808.4 500.0 2807.9 C506.2 2807.4 510.7 2807.0 516.0 2806.9 C521.3 2806.8 528.0 2806.9 532.0 2807.4 C536.0 2807.9 537.8 2808.5 540.0 2810.1 C542.2 2811.7 543.6 2813.2 545.4 2816.8 C547.2 2820.4 548.9 2825.0 550.7 2831.4 C552.5 2837.8 554.3 2846.2 556.1 2855.5 C557.9 2864.8 559.6 2875.0 561.4 2887.5 C563.2 2900.0 565.2 2918.7 566.8 2930.3 C568.4 2941.9 569.5 2947.2 570.8 2957.0 C572.1 2966.8 573.2 2978.9 574.8 2989.1 C576.3 2999.3 578.3 3009.3 580.1 3018.4 C581.9 3027.5 583.5 3036.7 585.5 3043.8 C587.5 3050.9 589.9 3056.6 592.1 3061.2 C594.3 3065.8 596.6 3069.5 598.8 3071.3 C601.0 3073.1 603.5 3072.7 605.5 3071.9 C607.5 3071.1 609.0 3069.6 610.8 3066.5 C612.6 3063.4 614.2 3059.4 616.2 3053.2 C618.2 3047.0 620.8 3036.8 622.9 3029.1 C625.0 3021.4 627.1 3014.6 629.0 3007.0 C630.9 2999.4 632.3 2990.7 634.3 2983.7 C636.3 2976.7 638.5 2970.3 641.0 2965.0 C643.5 2959.7 645.6 2954.9 649.0 2951.7 C652.4 2948.5 657.1 2946.7 661.1 2945.8 C665.1 2944.9 669.1 2947.0 673.1 2946.3 C677.1 2945.6 681.3 2944.2 685.1 2941.8 C688.9 2939.4 691.8 2936.6 695.8 2931.6 C699.8 2926.6 705.1 2917.4 709.1 2911.6 C713.1 2905.8 716.2 2900.9 719.8 2896.9 C723.4 2892.9 726.5 2890.6 730.5 2887.5 C734.5 2884.4 739.4 2882.0 743.9 2878.2 C748.4 2874.4 752.3 2869.5 757.2 2864.8 C762.1 2860.1 767.9 2854.0 773.3 2850.1 C778.6 2846.2 784.0 2843.6 789.3 2841.3 C794.6 2839.0 800.2 2837.6 805.3 2836.3 C810.4 2835.0 816.0 2833.6 820.0 2833.6 C824.0 2833.6 826.1 2834.2 829.4 2836.3 C832.7 2838.4 836.5 2840.7 840.0 2846.1 C843.5 2851.5 846.9 2861.2 850.7 2868.8 C854.5 2876.4 858.8 2885.5 862.8 2891.5 C866.8 2897.5 870.6 2900.4 874.8 2904.9 C879.0 2909.4 883.6 2913.5 888.1 2918.3 C892.6 2923.1 897.5 2930.1 901.5 2933.5 C905.5 2936.9 908.6 2938.2 912.2 2938.8 C915.8 2939.4 920.1 2937.3 922.9 2937.0 C925.7 2936.7 926.2 2936.3 929.0 2937.0 C931.8 2937.7 935.2 2938.7 939.7 2941.4 C944.2 2944.1 950.4 2950.0 955.7 2953.4 C961.0 2956.8 967.2 2960.4 971.7 2962.0 C976.2 2963.6 978.8 2963.0 982.4 2962.8 C986.0 2962.6 989.1 2960.2 993.1 2960.9 C997.1 2961.6 1002.5 2965.6 1006.5 2966.8 C1010.5 2968.0 1013.7 2968.6 1017.2 2968.1 C1020.8 2967.6 1024.2 2965.2 1027.8 2964.1 C1031.3 2963.0 1034.9 2960.9 1038.5 2961.4 C1042.1 2961.9 1045.6 2963.7 1049.2 2966.8 C1052.8 2969.9 1056.3 2975.0 1059.9 2980.1 C1063.5 2985.2 1067.0 2991.0 1070.6 2997.5 C1074.2 3004.0 1078.2 3012.0 1081.3 3018.9 C1084.4 3025.8 1086.6 3033.1 1089.3 3038.9 C1092.0 3044.7 1094.6 3049.2 1097.3 3053.6 C1100.0 3058.0 1102.2 3062.3 1105.3 3065.6 C1108.4 3068.9 1112.4 3071.4 1116.0 3073.6 C1119.6 3075.8 1123.6 3075.3 1126.7 3079.0 C1129.8 3082.7 1132.2 3088.1 1134.7 3095.6 C1137.2 3103.1 1139.7 3115.9 1142.0 3124.0 C1144.3 3132.1 1146.4 3139.5 1148.5 3144.0 C1150.6 3148.5 1152.5 3151.1 1154.7 3150.8 C1156.9 3150.5 1159.0 3147.2 1161.4 3142.4 C1163.9 3137.6 1167.6 3126.3 1169.4 3121.7 C1171.2 3117.1 1170.3 3118.9 1172.1 3114.9 C1173.9 3110.9 1178.3 3101.3 1180.1 3097.7 C1181.9 3094.0 1181.7 3094.8 1183.0 3093.0 C1184.3 3091.2 1186.3 3088.7 1188.1 3087.0 C1189.8 3085.3 1192.2 3083.8 1193.5 3082.8 C1194.8 3081.8 1194.8 3081.6 1196.1 3081.1 C1197.4 3080.6 1200.2 3080.0 1201.5 3080.1 C1202.8 3080.2 1203.1 3080.8 1204.2 3081.7 C1205.3 3082.6 1206.9 3083.3 1208.2 3085.5 C1209.5 3087.7 1210.2 3090.3 1212.2 3095.0 C1214.2 3099.7 1217.4 3108.2 1220.2 3113.6 C1223.0 3118.9 1226.8 3123.5 1229.0 3127.1 C1231.2 3130.7 1231.9 3131.2 1233.6 3134.9 C1235.2 3138.7 1236.9 3140.9 1238.9 3149.6 C1240.9 3158.3 1243.4 3175.0 1245.6 3187.0 C1247.8 3199.0 1249.8 3211.7 1252.3 3221.7 C1254.8 3231.7 1257.2 3239.3 1260.3 3247.1 C1263.4 3254.9 1267.4 3263.8 1271.0 3268.5 C1274.6 3273.2 1278.4 3273.5 1281.7 3275.2 C1285.0 3276.8 1288.1 3278.8 1291.0 3278.4 C1293.9 3278.0 1296.5 3276.6 1299.0 3272.5 C1301.5 3268.4 1303.5 3262.3 1305.7 3253.8 C1307.9 3245.3 1310.4 3232.8 1312.4 3221.7 C1314.4 3210.6 1315.9 3197.2 1317.7 3187.0 C1319.5 3176.8 1321.3 3167.7 1323.1 3160.3 C1324.9 3153.0 1326.2 3148.5 1328.4 3142.9 C1330.6 3137.3 1333.1 3130.7 1336.4 3126.9 C1339.7 3123.1 1345.1 3123.1 1348.4 3120.2 C1351.8 3117.3 1353.8 3114.2 1356.5 3109.5 C1359.2 3104.8 1361.4 3097.8 1364.5 3092.2 C1367.6 3086.6 1371.7 3080.3 1375.2 3076.1 C1378.8 3071.9 1383.3 3068.8 1385.8 3066.8 C1388.3 3064.8 1388.0 3065.4 1390.0 3064.1 C1392.0 3062.8 1394.4 3062.1 1398.0 3058.8 C1401.6 3055.5 1407.4 3047.8 1411.4 3044.1 C1415.4 3040.4 1418.1 3038.9 1422.1 3036.9 C1426.1 3034.9 1431.4 3034.0 1435.4 3032.1 C1439.4 3030.2 1443.0 3027.0 1446.1 3025.4 C1449.2 3023.8 1451.6 3022.2 1454.1 3022.7 C1456.5 3023.1 1458.6 3024.8 1460.8 3028.1 C1463.0 3031.4 1465.5 3037.8 1467.5 3042.7 C1469.5 3047.6 1470.8 3054.4 1472.8 3057.4 C1474.8 3060.4 1477.0 3061.8 1479.5 3060.9 C1482.0 3060.0 1484.6 3055.2 1487.5 3052.1 C1490.4 3049.0 1492.7 3044.3 1496.9 3042.2 C1501.1 3040.1 1508.9 3039.2 1512.9 3039.5 C1516.9 3039.8 1517.8 3041.8 1520.9 3044.1 C1524.0 3046.4 1528.5 3051.7 1531.6 3053.4 C1534.7 3055.1 1536.5 3055.5 1539.6 3054.2 C1542.7 3052.9 1547.2 3047.3 1550.3 3045.4 C1553.4 3043.5 1555.6 3042.8 1558.3 3042.7 C1561.0 3042.6 1563.2 3042.9 1566.3 3044.9 C1569.4 3046.9 1573.2 3051.5 1577.0 3054.8 C1580.8 3058.1 1584.5 3062.4 1589.0 3064.9 C1593.5 3067.4 1599.5 3068.3 1603.7 3070.0 C1607.9 3071.7 1610.0 3071.6 1614.4 3074.8 C1618.9 3078.1 1625.5 3085.6 1630.4 3089.5 C1635.3 3093.4 1639.6 3095.9 1643.8 3098.3 C1648.0 3100.8 1652.2 3100.5 1655.8 3104.2 C1659.4 3107.8 1662.3 3115.5 1665.2 3120.2 C1668.1 3124.9 1670.1 3128.2 1673.2 3132.2 C1676.3 3136.2 1682.1 3142.3 1683.9 3144.3" fill="none" stroke="#2a2a2a" stroke-width="2.2" stroke-linejoin="round" clip-path="url(#cc)"/>
<path d="M329.0 2941.0 C330.1 2941.1 333.5 2942.0 335.7 2941.8 C337.9 2941.6 339.9 2940.1 342.4 2939.6 C344.8 2939.1 347.7 2938.7 350.4 2938.8 C353.1 2938.9 355.3 2939.1 358.4 2940.4 C361.5 2941.7 365.1 2944.8 369.1 2946.8 C373.1 2948.8 377.9 2950.9 382.4 2952.5 C386.8 2954.1 391.4 2955.2 395.8 2956.2 C400.2 2957.2 402.4 2958.1 409.1 2958.6 C415.8 2959.1 427.9 2958.9 435.9 2958.9 C443.9 2958.9 450.1 2959.1 457.2 2958.6 C464.3 2958.1 471.5 2956.8 478.6 2956.2 C485.7 2955.6 492.9 2955.1 500.0 2954.9 C507.1 2954.7 515.5 2954.6 521.3 2954.9 C527.1 2955.2 531.1 2955.8 534.7 2957.0 C538.3 2958.2 540.2 2958.3 542.7 2962.3 C545.2 2966.3 547.2 2972.1 549.4 2981.0 C551.6 2989.9 554.1 3004.2 556.1 3015.8 C558.1 3027.4 559.6 3037.2 561.4 3050.5 C563.2 3063.8 565.0 3081.2 566.8 3095.9 C568.6 3110.6 570.3 3125.8 572.1 3138.7 C573.9 3151.6 575.6 3163.2 577.4 3173.4 C579.2 3183.6 581.0 3192.1 582.8 3200.1 C584.6 3208.1 586.1 3215.5 588.1 3221.5 C590.1 3227.5 592.8 3233.4 594.8 3236.2 C596.8 3238.9 598.4 3238.0 600.2 3238.0 C602.0 3238.0 603.7 3238.5 605.5 3236.2 C607.3 3233.9 608.8 3229.7 610.8 3224.1 C612.8 3218.5 615.3 3210.4 617.5 3202.8 C619.7 3195.2 622.3 3186.2 624.2 3178.7 C626.1 3171.2 627.3 3166.0 629.0 3158.0 C630.7 3150.0 632.5 3138.7 634.3 3130.6 C636.1 3122.5 637.5 3115.3 639.7 3109.3 C641.9 3103.3 644.1 3098.3 647.7 3094.6 C651.3 3090.9 656.2 3088.3 661.1 3087.1 C666.0 3085.8 672.9 3087.8 677.1 3087.1 C681.3 3086.4 683.3 3085.4 686.4 3083.1 C689.5 3080.8 692.0 3079.1 695.8 3073.2 C699.6 3067.3 705.1 3054.9 709.1 3047.8 C713.1 3040.7 716.2 3035.8 719.8 3030.5 C723.4 3025.2 726.9 3020.0 730.5 3015.8 C734.1 3011.6 736.8 3008.8 741.2 3005.1 C745.7 3001.4 751.9 2997.2 757.2 2993.9 C762.6 2990.6 767.9 2986.8 773.3 2985.0 C778.6 2983.2 784.0 2984.0 789.3 2982.9 C794.6 2981.8 800.2 2979.7 805.3 2978.4 C810.4 2977.1 815.5 2975.2 820.0 2975.2 C824.5 2975.2 828.2 2976.1 832.0 2978.4 C835.8 2980.7 839.1 2983.1 842.7 2989.1 C846.3 2995.1 849.8 3005.5 853.4 3014.4 C857.0 3023.3 860.1 3034.5 864.1 3042.5 C868.1 3050.5 873.4 3057.2 877.4 3062.5 C881.4 3067.8 884.5 3069.8 888.1 3074.5 C891.7 3079.2 895.4 3087.2 898.8 3090.6 C902.1 3093.9 904.6 3094.8 908.2 3094.6 C911.8 3094.4 916.7 3090.4 920.2 3089.2 C923.7 3088.0 926.2 3087.4 929.0 3087.5 C931.8 3087.6 933.4 3087.8 937.0 3089.7 C940.6 3091.6 945.0 3095.2 950.4 3099.0 C955.8 3102.8 964.2 3109.5 969.1 3112.4 C974.0 3115.3 975.8 3116.0 979.8 3116.4 C983.8 3116.8 989.1 3114.7 993.1 3115.0 C997.1 3115.3 1000.2 3116.8 1003.8 3118.5 C1007.4 3120.2 1010.9 3124.0 1014.5 3125.2 C1018.1 3126.4 1021.2 3126.1 1025.2 3125.7 C1029.2 3125.2 1034.5 3122.5 1038.5 3122.5 C1042.5 3122.5 1045.2 3123.0 1049.2 3125.7 C1053.2 3128.4 1059.0 3134.1 1062.6 3138.6 C1066.2 3143.1 1067.5 3146.4 1070.6 3152.5 C1073.7 3158.6 1078.2 3168.1 1081.3 3175.2 C1084.4 3182.3 1086.8 3189.2 1089.3 3195.2 C1091.8 3201.2 1094.2 3207.8 1096.0 3211.2 C1097.8 3214.6 1096.9 3211.7 1100.0 3215.8 C1103.1 3220.0 1111.2 3232.6 1114.7 3236.1 C1118.2 3239.6 1118.8 3237.0 1121.3 3236.6 C1123.8 3236.2 1127.0 3233.4 1129.4 3233.9 C1131.9 3234.4 1133.8 3236.0 1136.0 3239.3 C1138.2 3242.7 1140.2 3249.3 1142.7 3254.0 C1145.2 3258.7 1148.5 3265.8 1150.7 3267.3 C1152.9 3268.9 1153.9 3267.7 1156.1 3263.3 C1158.3 3258.9 1161.4 3248.3 1164.1 3241.0 C1166.8 3233.7 1169.4 3224.7 1172.1 3219.5 C1174.8 3214.3 1177.7 3212.3 1180.1 3209.9 C1182.5 3207.5 1183.8 3205.2 1186.5 3205.2 C1189.2 3205.2 1192.8 3208.0 1196.1 3209.8 C1199.3 3211.6 1203.3 3212.5 1206.0 3215.8 C1208.7 3219.2 1210.3 3225.8 1212.2 3229.9 C1214.1 3234.0 1215.9 3237.6 1217.5 3240.4 C1219.1 3243.2 1220.0 3244.3 1222.0 3247.0 C1224.0 3249.7 1227.0 3251.8 1229.6 3256.5 C1232.2 3261.2 1235.1 3265.4 1237.6 3275.2 C1240.0 3285.0 1242.1 3303.2 1244.3 3315.2 C1246.5 3327.2 1248.2 3336.6 1250.9 3347.3 C1253.6 3358.0 1257.0 3370.0 1260.3 3379.3 C1263.6 3388.7 1267.4 3396.7 1271.0 3403.4 C1274.6 3410.1 1278.6 3415.0 1281.7 3419.4 C1284.8 3423.8 1287.3 3427.5 1289.7 3430.1 C1292.1 3432.7 1294.3 3435.3 1296.3 3434.9 C1298.3 3434.5 1299.9 3433.1 1301.7 3427.4 C1303.5 3421.7 1305.2 3410.9 1307.0 3400.7 C1308.8 3390.5 1310.6 3378.0 1312.4 3366.0 C1314.2 3354.0 1315.9 3340.6 1317.7 3328.6 C1319.5 3316.6 1321.3 3302.8 1323.1 3293.9 C1324.9 3285.0 1326.6 3279.2 1328.4 3275.2 C1330.2 3271.2 1332.0 3269.1 1333.8 3269.8 C1335.6 3270.5 1337.3 3274.8 1339.1 3279.2 C1340.9 3283.6 1342.4 3291.2 1344.4 3296.5 C1346.4 3301.8 1348.9 3309.6 1351.1 3311.2 C1353.3 3312.8 1355.8 3309.7 1357.8 3305.9 C1359.8 3302.1 1361.3 3295.0 1363.1 3288.5 C1364.9 3282.0 1366.5 3274.9 1368.5 3267.1 C1370.5 3259.3 1372.8 3248.0 1375.2 3241.8 C1377.7 3235.6 1380.5 3233.3 1383.2 3229.7 C1385.9 3226.1 1388.7 3223.3 1391.2 3220.4 C1393.7 3217.5 1394.6 3217.1 1398.0 3212.4 C1401.4 3207.7 1407.6 3196.4 1411.4 3192.3 C1415.2 3188.2 1416.9 3188.7 1420.7 3187.8 C1424.5 3186.9 1430.3 3188.2 1434.1 3187.0 C1437.9 3185.8 1440.1 3183.6 1443.4 3180.3 C1446.7 3177.0 1450.5 3170.2 1454.1 3167.0 C1457.7 3163.8 1460.8 3161.3 1464.8 3161.1 C1468.8 3160.9 1473.8 3163.9 1478.2 3165.6 C1482.7 3167.2 1487.0 3168.8 1491.5 3171.0 C1496.0 3173.2 1500.9 3177.2 1504.9 3179.0 C1508.9 3180.8 1512.5 3179.9 1515.6 3181.7 C1518.7 3183.5 1521.2 3187.0 1523.6 3189.7 C1526.0 3192.4 1528.0 3195.7 1530.2 3197.7 C1532.4 3199.7 1534.5 3202.3 1536.9 3201.7 C1539.4 3201.1 1541.8 3196.6 1544.9 3194.2 C1548.0 3191.8 1552.7 3187.8 1555.6 3187.0 C1558.5 3186.2 1559.6 3187.2 1562.3 3189.7 C1565.0 3192.1 1567.9 3197.2 1571.7 3201.7 C1575.5 3206.1 1580.5 3213.3 1585.0 3216.4 C1589.5 3219.5 1593.5 3218.6 1598.4 3220.4 C1603.3 3222.2 1610.0 3224.3 1614.4 3227.1 C1618.9 3229.9 1621.1 3233.4 1625.1 3237.2 C1629.1 3241.0 1634.4 3247.2 1638.4 3249.8 C1642.4 3252.4 1646.0 3251.6 1649.1 3252.5 C1652.2 3253.4 1654.4 3253.3 1657.1 3255.1 C1659.8 3256.9 1663.0 3259.3 1665.2 3263.1 C1667.4 3266.9 1668.5 3272.5 1670.5 3277.8 C1672.5 3283.2 1675.4 3289.8 1677.2 3295.2 C1679.0 3300.5 1679.9 3304.8 1681.2 3309.9 C1682.5 3315.0 1684.5 3323.2 1685.2 3325.9" fill="none" stroke="#f00" stroke-width="2.2" stroke-linejoin="round" clip-path="url(#cc)"/>
<path d="M329.0 3144.0 C330.1 3144.1 333.5 3145.1 335.7 3144.8 C337.9 3144.5 339.9 3142.9 342.4 3142.1 C344.8 3141.3 347.7 3140.0 350.4 3140.0 C353.1 3140.0 355.3 3140.5 358.4 3142.1 C361.5 3143.7 365.1 3146.9 369.1 3149.3 C373.1 3151.7 377.9 3154.7 382.4 3156.6 C386.8 3158.5 391.4 3159.6 395.8 3160.6 C400.2 3161.6 402.4 3162.3 409.1 3162.7 C415.8 3163.0 427.9 3162.8 435.9 3162.7 C443.9 3162.6 450.1 3162.4 457.2 3161.9 C464.3 3161.4 471.5 3160.2 478.6 3159.5 C485.7 3158.8 493.8 3158.2 500.0 3157.4 C506.2 3156.6 510.7 3155.4 516.0 3154.7 C521.3 3154.0 528.0 3153.3 532.0 3153.4 C536.0 3153.5 537.8 3153.9 540.0 3155.2 C542.2 3156.5 543.4 3157.0 545.4 3161.4 C547.4 3165.8 549.9 3172.3 552.1 3181.4 C554.3 3190.5 556.7 3203.6 558.7 3216.1 C560.7 3228.6 562.3 3243.7 564.1 3256.2 C565.9 3268.7 567.6 3278.9 569.4 3290.9 C571.2 3302.9 573.0 3316.7 574.8 3328.3 C576.6 3339.9 578.3 3351.1 580.1 3360.4 C581.9 3369.8 583.5 3376.8 585.5 3384.4 C587.5 3392.0 590.1 3400.5 592.1 3405.8 C594.1 3411.1 595.7 3414.0 597.5 3416.0 C599.3 3418.0 600.8 3418.4 602.8 3417.8 C604.8 3417.2 607.3 3416.5 609.5 3412.5 C611.7 3408.5 614.0 3400.3 616.2 3393.8 C618.4 3387.3 620.8 3381.2 622.9 3373.7 C625.0 3366.2 627.1 3356.6 629.0 3349.0 C630.9 3341.4 632.1 3335.8 634.3 3328.3 C636.5 3320.9 639.5 3310.9 642.4 3304.3 C645.3 3297.7 648.6 3291.9 651.7 3288.8 C654.8 3285.7 657.8 3285.3 661.1 3285.6 C664.4 3285.9 667.7 3289.2 671.7 3290.4 C675.7 3291.6 681.5 3292.9 685.1 3292.8 C688.7 3292.7 689.5 3293.5 693.1 3289.6 C696.7 3285.7 702.0 3276.7 706.5 3269.6 C711.0 3262.5 714.5 3254.5 719.8 3246.9 C725.1 3239.3 732.3 3229.9 738.5 3224.1 C744.7 3218.3 751.4 3215.8 757.2 3212.1 C763.0 3208.4 767.9 3205.0 773.3 3202.0 C778.6 3199.0 784.0 3196.4 789.3 3194.2 C794.6 3192.0 799.5 3190.7 805.3 3188.9 C811.1 3187.1 818.2 3183.5 824.0 3183.5 C829.8 3183.5 835.5 3184.8 840.0 3188.9 C844.5 3193.0 846.7 3201.1 850.7 3208.1 C854.7 3215.1 859.7 3224.9 864.1 3230.8 C868.5 3236.7 873.0 3238.7 877.4 3243.4 C881.8 3248.1 886.3 3253.5 890.8 3258.9 C895.3 3264.3 900.2 3272.4 904.2 3275.7 C908.2 3279.0 910.7 3278.8 914.8 3278.9 C918.9 3279.0 924.4 3275.9 929.0 3276.5 C933.6 3277.1 937.5 3279.8 942.4 3282.5 C947.3 3285.2 953.1 3289.6 958.4 3292.7 C963.7 3295.8 970.4 3299.7 974.4 3301.2 C978.4 3302.7 979.3 3301.8 982.4 3301.5 C985.5 3301.2 989.5 3299.0 993.1 3299.4 C996.7 3299.8 1000.2 3302.0 1003.8 3303.9 C1007.4 3305.8 1010.9 3309.5 1014.5 3310.6 C1018.1 3311.7 1021.6 3311.0 1025.2 3310.6 C1028.8 3310.2 1032.4 3308.4 1035.9 3308.2 C1039.5 3308.0 1042.5 3307.2 1046.5 3309.3 C1050.5 3311.4 1055.9 3316.0 1059.9 3320.8 C1063.9 3325.6 1067.0 3331.7 1070.6 3338.1 C1074.2 3344.5 1078.2 3352.4 1081.3 3359.5 C1084.4 3366.6 1086.8 3374.8 1089.3 3380.9 C1091.8 3387.0 1094.2 3392.8 1096.0 3396.3 C1097.8 3399.8 1098.0 3398.8 1100.0 3402.0 C1102.0 3405.2 1105.5 3412.0 1108.0 3415.4 C1110.5 3418.8 1112.5 3421.1 1114.7 3422.3 C1116.9 3423.5 1118.8 3423.0 1121.3 3422.8 C1123.8 3422.6 1127.0 3420.1 1129.4 3421.0 C1131.9 3421.9 1133.8 3423.8 1136.0 3428.0 C1138.2 3432.2 1140.2 3440.9 1142.7 3446.1 C1145.2 3451.2 1148.3 3457.6 1150.8 3458.9 C1153.2 3460.2 1155.2 3458.1 1157.4 3454.2 C1159.6 3450.3 1161.4 3442.3 1164.1 3435.4 C1166.8 3428.5 1169.9 3418.9 1173.5 3412.7 C1177.1 3406.5 1181.7 3399.9 1185.5 3398.1 C1189.3 3396.3 1192.6 3399.8 1196.2 3402.0 C1199.8 3404.2 1202.9 3404.3 1206.9 3411.4 C1210.9 3418.5 1215.5 3434.1 1220.2 3444.8 C1224.9 3455.5 1231.8 3467.3 1234.9 3475.5 C1238.0 3483.7 1237.1 3483.1 1238.9 3494.2 C1240.7 3505.3 1243.4 3528.9 1245.6 3542.3 C1247.8 3555.7 1249.8 3564.6 1252.3 3574.4 C1254.8 3584.2 1257.2 3592.7 1260.3 3601.1 C1263.4 3609.5 1267.4 3619.5 1271.0 3625.1 C1274.6 3630.7 1278.5 3632.5 1281.7 3634.5 C1284.9 3636.5 1287.5 3637.5 1290.2 3637.1 C1292.9 3636.7 1295.3 3636.5 1297.7 3631.8 C1300.1 3627.1 1302.4 3620.0 1304.4 3609.1 C1306.4 3598.2 1307.9 3581.0 1309.7 3566.3 C1311.5 3551.6 1313.2 3534.7 1315.0 3520.9 C1316.8 3507.1 1318.4 3493.3 1320.4 3483.5 C1322.4 3473.7 1324.6 3467.5 1327.1 3462.2 C1329.5 3456.9 1332.4 3453.5 1335.1 3451.5 C1337.8 3449.5 1340.2 3450.5 1343.1 3450.1 C1346.0 3449.7 1349.8 3450.8 1352.5 3448.8 C1355.2 3446.8 1356.7 3442.8 1359.1 3438.1 C1361.5 3433.4 1364.4 3425.8 1367.1 3420.7 C1369.8 3415.6 1372.1 3411.2 1375.2 3407.4 C1378.3 3403.6 1383.3 3400.1 1385.8 3398.0 C1388.3 3395.9 1387.5 3396.6 1390.0 3394.8 C1392.5 3393.0 1397.1 3390.3 1400.7 3387.4 C1404.3 3384.5 1407.8 3379.5 1411.4 3377.2 C1415.0 3374.9 1418.8 3373.9 1422.1 3373.5 C1425.4 3373.1 1427.9 3375.1 1431.4 3374.5 C1435.0 3373.9 1439.6 3372.3 1443.4 3370.0 C1447.2 3367.7 1450.3 3363.0 1454.1 3360.6 C1457.9 3358.2 1461.6 3355.5 1466.1 3355.3 C1470.5 3355.1 1475.7 3356.9 1480.8 3359.3 C1485.9 3361.8 1491.6 3367.3 1496.9 3370.0 C1502.2 3372.7 1508.5 3372.9 1512.9 3375.3 C1517.4 3377.8 1520.7 3381.8 1523.6 3384.7 C1526.5 3387.6 1527.8 3390.7 1530.2 3392.7 C1532.7 3394.7 1535.8 3397.0 1538.3 3396.7 C1540.8 3396.4 1543.3 3392.2 1545.3 3390.7 C1547.3 3389.1 1548.7 3388.3 1550.3 3387.4 C1551.9 3386.5 1553.2 3385.6 1554.7 3385.1 C1556.2 3384.6 1558.3 3384.7 1559.6 3384.7 C1560.9 3384.7 1561.1 3384.2 1562.7 3385.1 C1564.3 3386.0 1567.0 3387.7 1569.4 3390.0 C1571.9 3392.3 1575.0 3395.8 1577.4 3398.7 C1579.9 3401.6 1581.4 3404.7 1584.1 3407.4 C1586.8 3410.1 1589.6 3413.3 1593.4 3415.0 C1597.2 3416.7 1603.2 3416.5 1606.8 3417.7 C1610.4 3418.9 1611.9 3419.8 1614.8 3422.1 C1617.7 3424.4 1621.2 3428.2 1624.1 3431.4 C1627.0 3434.6 1629.5 3438.3 1632.2 3441.4 C1634.9 3444.5 1638.2 3448.8 1640.2 3450.1 C1642.2 3451.4 1642.1 3449.3 1644.2 3449.2 C1646.3 3449.0 1650.7 3447.8 1652.9 3449.2 C1655.1 3450.6 1656.3 3455.0 1657.5 3457.5 C1658.7 3460.0 1659.1 3462.3 1660.2 3464.1 C1661.3 3465.9 1663.2 3466.3 1664.2 3468.2 C1665.2 3470.1 1664.9 3473.5 1666.2 3475.5 C1667.5 3477.5 1670.1 3479.6 1672.2 3480.4 C1674.3 3481.2 1676.8 3481.2 1678.9 3480.4 C1681.0 3479.6 1683.9 3476.3 1684.9 3475.5" fill="none" stroke="#00f" stroke-width="2.2" stroke-linejoin="round" clip-path="url(#cc)"/>
<line x1="327" y1="2767" x2="1688.0" y2="2767" stroke="#000" stroke-width="4" />
<line x1="329" y1="2765" x2="329" y2="3783.9" stroke="#000" stroke-width="4" />
<line x1="1685.5" y1="2765" x2="1685.5" y2="3783.9" stroke="#000" stroke-width="5" />
<line x1="327" y1="3781.4" x2="1688.0" y2="3781.4" stroke="#000" stroke-width="5" />
<line x1="329.0" y1="3781.4" x2="329.0" y2="3801.4" stroke="#000" stroke-width="4" />
<line x1="425.9" y1="3781.4" x2="425.9" y2="3791.4" stroke="#000" stroke-width="4" />
<line x1="522.8" y1="3781.4" x2="522.8" y2="3801.4" stroke="#000" stroke-width="4" />
<line x1="619.7" y1="3781.4" x2="619.7" y2="3791.4" stroke="#000" stroke-width="4" />
<line x1="716.6" y1="3781.4" x2="716.6" y2="3801.4" stroke="#000" stroke-width="4" />
<line x1="813.5" y1="3781.4" x2="813.5" y2="3791.4" stroke="#000" stroke-width="4" />
<line x1="910.3" y1="3781.4" x2="910.3" y2="3801.4" stroke="#000" stroke-width="4" />
<line x1="1007.2" y1="3781.4" x2="1007.2" y2="3791.4" stroke="#000" stroke-width="4" />
<line x1="1104.1" y1="3781.4" x2="1104.1" y2="3801.4" stroke="#000" stroke-width="4" />
<line x1="1201.0" y1="3781.4" x2="1201.0" y2="3791.4" stroke="#000" stroke-width="4" />
<line x1="1297.9" y1="3781.4" x2="1297.9" y2="3801.4" stroke="#000" stroke-width="4" />
<line x1="1394.8" y1="3781.4" x2="1394.8" y2="3791.4" stroke="#000" stroke-width="4" />
<line x1="1491.7" y1="3781.4" x2="1491.7" y2="3801.4" stroke="#000" stroke-width="4" />
<line x1="1588.6" y1="3781.4" x2="1588.6" y2="3791.4" stroke="#000" stroke-width="4" />
<line x1="1685.5" y1="3781.4" x2="1685.5" y2="3801.4" stroke="#000" stroke-width="4" />
<rect x="358" y="3593.5" width="345.5" height="145" fill="#fff" stroke="#000" stroke-width="1.8"/>
<line x1="363" y1="3617.4" x2="450.5" y2="3617.4" stroke="#333" stroke-width="2.4" />
<line x1="363" y1="3666.4" x2="450.5" y2="3666.4" stroke="#f00" stroke-width="2.4" />
<line x1="363" y1="3715.4" x2="450.5" y2="3715.4" stroke="#00f" stroke-width="2.4" />
<g transform="translate(3.21,-6.18) scale(0.98446,1.06078) translate(0,0)"><text x="0" y="0" font-family="Liberation Sans, Arial, sans-serif" font-size="97" font-weight="normal" text-anchor="start"   transform="translate(19,101) scale(0.92,1)">A</text></g>
<g transform="translate(303.41,1053.51) scale(0.96496,1.00036) translate(-304.5,-1055.5)"><text x="304.5" y="1055.5" font-family="Liberation Sans, Arial, sans-serif" font-size="80" font-weight="normal" text-anchor="end" stroke="#000" stroke-width="0.7" >-40</text></g>
<g transform="translate(303.41,941.21) scale(0.96496,1.00036) translate(-304.5,-943.2)"><text x="304.5" y="943.2" font-family="Liberation Sans, Arial, sans-serif" font-size="80" font-weight="normal" text-anchor="end" stroke="#000" stroke-width="0.7" >-30</text></g>
<g transform="translate(303.41,829.01) scale(0.96496,1.00036) translate(-304.5,-831.0)"><text x="304.5" y="831.0" font-family="Liberation Sans, Arial, sans-serif" font-size="80" font-weight="normal" text-anchor="end" stroke="#000" stroke-width="0.7" >-20</text></g>
<g transform="translate(303.41,716.71) scale(0.96496,1.00036) translate(-304.5,-718.7)"><text x="304.5" y="718.7" font-family="Liberation Sans, Arial, sans-serif" font-size="80" font-weight="normal" text-anchor="end" stroke="#000" stroke-width="0.7" >-10</text></g>
<g transform="translate(303.41,604.51) scale(0.96496,1.00036) translate(-304.5,-606.5)"><text x="304.5" y="606.5" font-family="Liberation Sans, Arial, sans-serif" font-size="80" font-weight="normal" text-anchor="end" stroke="#000" stroke-width="0.7" >0</text></g>
<g transform="translate(303.41,492.21) scale(0.96496,1.00036) translate(-304.5,-494.2)"><text x="304.5" y="494.2" font-family="Liberation Sans, Arial, sans-serif" font-size="80" font-weight="normal" text-anchor="end" stroke="#000" stroke-width="0.7" >10</text></g>
<g transform="translate(303.41,379.91) scale(0.96496,1.00036) translate(-304.5,-381.9)"><text x="304.5" y="381.9" font-family="Liberation Sans, Arial, sans-serif" font-size="80" font-weight="normal" text-anchor="end" stroke="#000" stroke-width="0.7" >20</text></g>
<g transform="translate(303.41,267.71) scale(0.96496,1.00036) translate(-304.5,-269.7)"><text x="304.5" y="269.7" font-family="Liberation Sans, Arial, sans-serif" font-size="80" font-weight="normal" text-anchor="end" stroke="#000" stroke-width="0.7" >30</text></g>
<g transform="translate(303.41,155.41) scale(0.96496,1.00036) translate(-304.5,-157.4)"><text x="304.5" y="157.4" font-family="Liberation Sans, Arial, sans-serif" font-size="80" font-weight="normal" text-anchor="end" stroke="#000" stroke-width="0.7" >40</text></g>
<g transform="translate(559.98,1184.03) scale(1.03955,1.00277) translate(-561,-1187)"><text x="561" y="1187" font-family="Liberation Sans, Arial, sans-serif" font-size="58" font-weight="normal" text-anchor="middle" stroke="#000" stroke-width="1.0" >nPSi-βCD</text></g>
<g transform="translate(1017.91,1182.98) scale(1.04548,1.00207) translate(-1017,-1187)"><text x="1017" y="1187" font-family="Liberation Sans, Arial, sans-serif" font-size="58" font-weight="normal" text-anchor="middle" stroke="#000" stroke-width="1.0" >nPSi-βCD/CA</text></g>
<g transform="translate(1468.00,1182.24) scale(1.04547,0.98508) translate(-1466,-1187)"><text x="1466" y="1187" font-family="Liberation Sans, Arial, sans-serif" font-size="58" font-weight="normal" text-anchor="middle" stroke="#000" stroke-width="1.0" >nPSi-βCD/Pin</text></g>
<g transform="translate(1023.00,1288.70) scale(0.98494,0.96044) translate(-1022,-1290)"><text x="1022" y="1290" font-family="Liberation Sans, Arial, sans-serif" font-size="80" font-weight="normal" text-anchor="middle" stroke="#000" stroke-width="1.2" >Sample</text></g>
<g transform="translate(121.50,566.30) scale(1.02858,1.00000) translate(-124,-566.3)"><text x="0" y="0" font-family="Liberation Sans, Arial, sans-serif" font-size="78.6" font-weight="normal" text-anchor="middle" stroke="#000" stroke-width="1.2"  transform="translate(124,566.3) rotate(-90)">Zeta potential (mV)</text></g>
<g transform="translate(-2.21,-42.43) scale(1.07342,1.03048) translate(0,0)"><text x="0" y="0" font-family="Liberation Sans, Arial, sans-serif" font-size="96" font-weight="normal" text-anchor="start"   transform="translate(24,1425) scale(0.80,1)">B</text></g>
<g transform="translate(335.48,2510.50) scale(0.96374,1.00000) translate(-336.0,-2511.5)"><text x="336.0" y="2511.5" font-family="Liberation Sans, Arial, sans-serif" font-size="63" font-weight="normal" text-anchor="middle" stroke="#000" stroke-width="1.2" >4000</text></g>
<g transform="translate(535.58,2510.50) scale(0.96374,1.00000) translate(-536.1,-2511.5)"><text x="536.1" y="2511.5" font-family="Liberation Sans, Arial, sans-serif" font-size="63" font-weight="normal" text-anchor="middle" stroke="#000" stroke-width="1.2" >3500</text></g>
<g transform="translate(735.58,2510.50) scale(0.96374,1.00000) translate(-736.1,-2511.5)"><text x="736.1" y="2511.5" font-family="Liberation Sans, Arial, sans-serif" font-size="63" font-weight="normal" text-anchor="middle" stroke="#000" stroke-width="1.2" >3000</text></g>
<g transform="translate(935.68,2510.50) scale(0.96374,1.00000) translate(-936.2,-2511.5)"><text x="936.2" y="2511.5" font-family="Liberation Sans, Arial, sans-serif" font-size="63" font-weight="normal" text-anchor="middle" stroke="#000" stroke-width="1.2" >2500</text></g>
<g transform="translate(1135.78,2510.50) scale(0.96374,1.00000) translate(-1136.3,-2511.5)"><text x="1136.3" y="2511.5" font-family="Liberation Sans, Arial, sans-serif" font-size="63" font-weight="normal" text-anchor="middle" stroke="#000" stroke-width="1.2" >2000</text></g>
<g transform="translate(1335.78,2510.50) scale(0.96374,1.00000) translate(-1336.3,-2511.5)"><text x="1336.3" y="2511.5" font-family="Liberation Sans, Arial, sans-serif" font-size="63" font-weight="normal" text-anchor="middle" stroke="#000" stroke-width="1.2" >1500</text></g>
<g transform="translate(1535.88,2510.50) scale(0.96374,1.00000) translate(-1536.4,-2511.5)"><text x="1536.4" y="2511.5" font-family="Liberation Sans, Arial, sans-serif" font-size="63" font-weight="normal" text-anchor="middle" stroke="#000" stroke-width="1.2" >1000</text></g>
<g transform="translate(678.00,2624.03) scale(1.00436,0.96700) translate(-680,-2627)"><text x="680" y="2627" font-family="Liberation Sans, Arial, sans-serif" font-size="78" font-weight="normal" text-anchor="start" stroke="#000" stroke-width="1.2" >Wavenumber</text></g>
<g transform="translate(1159.18,2624.88) scale(0.95455,0.94521) translate(-1163,-2627)"><text x="1163" y="2627" font-family="Liberation Sans, Arial, sans-serif" font-size="78" font-weight="bold" text-anchor="start" stroke="#000" stroke-width="0.7" >(</text></g>
<g transform="translate(1183.89,2623.06) scale(1.03148,0.97877) translate(-1186,-2627)"><text x="1186" y="2627" font-family="Liberation Sans, Arial, sans-serif" font-size="78" font-weight="normal" text-anchor="start" stroke="#000" stroke-width="1.2" >cm</text></g>
<g transform="translate(1288.21,2583.73) scale(0.89570,1.06661) translate(-1289,-2582.7)"><text x="1289" y="2582.7" font-family="Liberation Sans, Arial, sans-serif" font-size="47" font-weight="normal" text-anchor="start" stroke="#000" stroke-width="0.9" >-1</text></g>
<g transform="translate(1332.93,2624.88) scale(0.86827,0.94521) translate(-1331,-2627)"><text x="1331" y="2627" font-family="Liberation Sans, Arial, sans-serif" font-size="78" font-weight="bold" text-anchor="start" stroke="#000" stroke-width="0.7" >)</text></g>
<g transform="translate(233.46,1933.51) scale(0.97365,0.99069) translate(-234,-1938.5)"><text x="0" y="0" font-family="Liberation Sans, Arial, sans-serif" font-size="80" font-weight="normal" text-anchor="middle" stroke="#000" stroke-width="1.2"  transform="translate(234,1938.5) rotate(-90)">Transmittance (%)</text></g>
<g transform="translate(468.97,2283.27) scale(1.01278,0.97413) translate(-470,-2283.0)"><text x="470" y="2283.0" font-family="Liberation Sans, Arial, sans-serif" font-size="36" font-weight="normal" text-anchor="start" stroke="#000" stroke-width="0.4" >nPSi-βCD</text></g>
<g transform="translate(468.97,2332.47) scale(1.01278,0.97413) translate(-470,-2332.2)"><text x="470" y="2332.2" font-family="Liberation Sans, Arial, sans-serif" font-size="36" font-weight="normal" text-anchor="start" stroke="#000" stroke-width="0.4" >nPSi-βCD/CA</text></g>
<g transform="translate(468.97,2381.67) scale(1.01278,0.97413) translate(-470,-2381.4)"><text x="470" y="2381.4" font-family="Liberation Sans, Arial, sans-serif" font-size="36" font-weight="normal" text-anchor="start" stroke="#000" stroke-width="0.4" >nPSi-βCD/Pin</text></g>
<g transform="translate(599.99,2100.99) scale(1.00037,1.00601) translate(-602,-2100)"><text x="602" y="2100" font-family="Liberation Sans, Arial, sans-serif" font-size="44" font-weight="normal" text-anchor="start" stroke="#000" stroke-width="1.0" >O-H</text></g>
<g transform="translate(754.00,2053.60) scale(1.00014,1.00194) translate(-755,-2053.6)"><text x="755" y="2053.6" font-family="Liberation Sans, Arial, sans-serif" font-size="44" font-weight="normal" text-anchor="start" stroke="#000" stroke-width="1.0" >CH<tspan font-size="27" dy="15">2</tspan></text></g>
<g transform="translate(1175.47,2240.13) scale(1.00042,1.03801) translate(-1177.5,-2241)"><text x="1177.5" y="2241" font-family="Liberation Sans, Arial, sans-serif" font-size="44" font-weight="normal" text-anchor="start" stroke="#000" stroke-width="1.0" >C=O</text></g>
<g transform="translate(1279.07,2126.12) scale(0.97025,1.04291) translate(-1280,-2125.8)"><text x="1280" y="2125.8" font-family="Liberation Sans, Arial, sans-serif" font-size="44" font-weight="normal" text-anchor="start" stroke="#000" stroke-width="1.0" >H<tspan font-size="27" dy="16">2</tspan><tspan dy="-16">O</tspan><tspan font-size="27" dy="16">m</tspan></text></g>
<g transform="translate(1377.50,2311.05) scale(0.99206,1.17277) translate(-1378.5,-2309)"><text x="1378.5" y="2309" font-family="Liberation Sans, Arial, sans-serif" font-size="44" font-weight="normal" text-anchor="start" stroke="#000" stroke-width="1.0" >C-O-C</text></g>
<g transform="translate(1525.53,2414.50) scale(0.97249,0.97048) translate(-1525.5,-2416.5)"><text x="1525.5" y="2416.5" font-family="Liberation Sans, Arial, sans-serif" font-size="44" font-weight="normal" text-anchor="start" stroke="#000" stroke-width="1.0" >C-OH</text></g>
<g transform="translate(2.43,-42.85) scale(0.98108,1.01521) translate(0,0)"><text x="0" y="0" font-family="Liberation Sans, Arial, sans-serif" font-size="96" font-weight="normal" text-anchor="start"   transform="translate(19,2750) scale(0.86,1)">C</text></g>
<g transform="translate(328.56,3860.77) scale(0.94759,1.00299) translate(-329.0,-3862.8)"><text x="329.0" y="3862.8" font-family="Liberation Sans, Arial, sans-serif" font-size="63" font-weight="normal" text-anchor="middle" stroke="#000" stroke-width="1.2" >2000</text></g>
<g transform="translate(522.36,3860.77) scale(0.94759,1.00299) translate(-522.8,-3862.8)"><text x="522.8" y="3862.8" font-family="Liberation Sans, Arial, sans-serif" font-size="63" font-weight="normal" text-anchor="middle" stroke="#000" stroke-width="1.2" >1800</text></g>
<g transform="translate(716.16,3860.77) scale(0.94759,1.00299) translate(-716.6,-3862.8)"><text x="716.6" y="3862.8" font-family="Liberation Sans, Arial, sans-serif" font-size="63" font-weight="normal" text-anchor="middle" stroke="#000" stroke-width="1.2" >1600</text></g>
<g transform="translate(909.86,3860.77) scale(0.94759,1.00299) translate(-910.3,-3862.8)"><text x="910.3" y="3862.8" font-family="Liberation Sans, Arial, sans-serif" font-size="63" font-weight="normal" text-anchor="middle" stroke="#000" stroke-width="1.2" >1400</text></g>
<g transform="translate(1103.66,3860.77) scale(0.94759,1.00299) translate(-1104.1,-3862.8)"><text x="1104.1" y="3862.8" font-family="Liberation Sans, Arial, sans-serif" font-size="63" font-weight="normal" text-anchor="middle" stroke="#000" stroke-width="1.2" >1200</text></g>
<g transform="translate(1297.46,3860.77) scale(0.94759,1.00299) translate(-1297.9,-3862.8)"><text x="1297.9" y="3862.8" font-family="Liberation Sans, Arial, sans-serif" font-size="63" font-weight="normal" text-anchor="middle" stroke="#000" stroke-width="1.2" >1000</text></g>
<g transform="translate(1491.26,3860.77) scale(0.94759,1.00299) translate(-1491.7,-3862.8)"><text x="1491.7" y="3862.8" font-family="Liberation Sans, Arial, sans-serif" font-size="63" font-weight="normal" text-anchor="middle" stroke="#000" stroke-width="1.2" >800</text></g>
<g transform="translate(1685.06,3860.77) scale(0.94759,1.00299) translate(-1685.5,-3862.8)"><text x="1685.5" y="3862.8" font-family="Liberation Sans, Arial, sans-serif" font-size="63" font-weight="normal" text-anchor="middle" stroke="#000" stroke-width="1.2" >600</text></g>
<g transform="translate(669.99,3981.51) scale(1.00220,1.00148) translate(-673,-3982.5)"><text x="673" y="3982.5" font-family="Liberation Sans, Arial, sans-serif" font-size="78" font-weight="normal" text-anchor="start" stroke="#000" stroke-width="1.2" >Wavenumber</text></g>
<g transform="translate(1151.33,3981.97) scale(0.91116,0.97344) translate(-1153,-3982.5)"><text x="1153" y="3982.5" font-family="Liberation Sans, Arial, sans-serif" font-size="78" font-weight="bold" text-anchor="start" stroke="#000" stroke-width="0.7" >(</text></g>
<g transform="translate(1175.95,3981.65) scale(1.01075,0.89418) translate(-1177,-3982.5)"><text x="1177" y="3982.5" font-family="Liberation Sans, Arial, sans-serif" font-size="78" font-weight="normal" text-anchor="start" stroke="#000" stroke-width="1.2" >cm</text></g>
<g transform="translate(1279.26,3940.00) scale(0.86941,0.94881) translate(-1280,-3940)"><text x="1280" y="3940" font-family="Liberation Sans, Arial, sans-serif" font-size="47" font-weight="normal" text-anchor="start" stroke="#000" stroke-width="0.9" >-1</text></g>
<g transform="translate(1322.93,3982.42) scale(0.86827,0.94556) translate(-1321,-3982.5)"><text x="1321" y="3982.5" font-family="Liberation Sans, Arial, sans-serif" font-size="78" font-weight="bold" text-anchor="start" stroke="#000" stroke-width="0.7" >)</text></g>
<g transform="translate(272.20,3321.81) scale(0.93617,0.99224) translate(-274,-3326.3)"><text x="0" y="0" font-family="Liberation Sans, Arial, sans-serif" font-size="80" font-weight="normal" text-anchor="middle" stroke="#000" stroke-width="1.2"  transform="translate(274,3326.3) rotate(-90)">Transmittance (%)</text></g>
<g transform="translate(460.97,3631.78) scale(1.01274,0.90813) translate(-462,-3630.8)"><text x="462" y="3630.8" font-family="Liberation Sans, Arial, sans-serif" font-size="36" font-weight="normal" text-anchor="start" stroke="#000" stroke-width="1.4" >nPSi-βCD</text></g>
<g transform="translate(460.97,3680.78) scale(1.01274,0.90813) translate(-462,-3679.8)"><text x="462" y="3679.8" font-family="Liberation Sans, Arial, sans-serif" font-size="36" font-weight="normal" text-anchor="start" stroke="#000" stroke-width="1.4" >nPSi-βCD/CA</text></g>
<g transform="translate(460.97,3729.78) scale(1.01274,0.90813) translate(-462,-3728.8)"><text x="462" y="3728.8" font-family="Liberation Sans, Arial, sans-serif" font-size="36" font-weight="normal" text-anchor="start" stroke="#000" stroke-width="1.4" >nPSi-βCD/Pin</text></g>
<g transform="translate(522.02,3519.00) scale(0.98870,1.06497) translate(-523,-3518)"><text x="523" y="3518" font-family="Liberation Sans, Arial, sans-serif" font-size="44" font-weight="normal" text-anchor="start" stroke="#000" stroke-width="1.0" >C=O</text></g>
<g transform="translate(668.09,3448.92) scale(0.96981,0.94092) translate(-670,-3448.9)"><text x="670" y="3448.9" font-family="Liberation Sans, Arial, sans-serif" font-size="44" font-weight="normal" text-anchor="start" stroke="#000" stroke-width="1.0" >H<tspan font-size="27" dy="16">2</tspan><tspan dy="-16">O</tspan><tspan font-size="27" dy="16">m</tspan></text></g>
<g transform="translate(1024.10,3562.73) scale(0.96468,0.95730) translate(-1024,-3563.3)"><text x="1024" y="3563.3" font-family="Liberation Sans, Arial, sans-serif" font-size="44" font-weight="normal" text-anchor="start" stroke="#000" stroke-width="1.0" >β(CH)</text></g>
<g transform="translate(1040.04,3705.05) scale(0.97597,1.17277) translate(-1041,-3703)"><text x="1041" y="3703" font-family="Liberation Sans, Arial, sans-serif" font-size="44" font-weight="normal" text-anchor="start" stroke="#000" stroke-width="1.0" >C-O-C</text></g>
<g transform="translate(1268.05,3747.87) scale(0.97224,1.00840) translate(-1269,-3746.8)"><text x="1269" y="3746.8" font-family="Liberation Sans, Arial, sans-serif" font-size="44" font-weight="normal" text-anchor="start" stroke="#000" stroke-width="1.0" >C-OH</text></g>
<g transform="translate(1348.00,3544.26) scale(0.93809,0.90907) translate(-1351,-3546.3)"><text x="1351" y="3546.3" font-family="Liberation Sans, Arial, sans-serif" font-size="44" font-weight="normal" text-anchor="start" stroke="#000" stroke-width="1.0" >γ(CH)</text></g>
</svg>
</body></html>
